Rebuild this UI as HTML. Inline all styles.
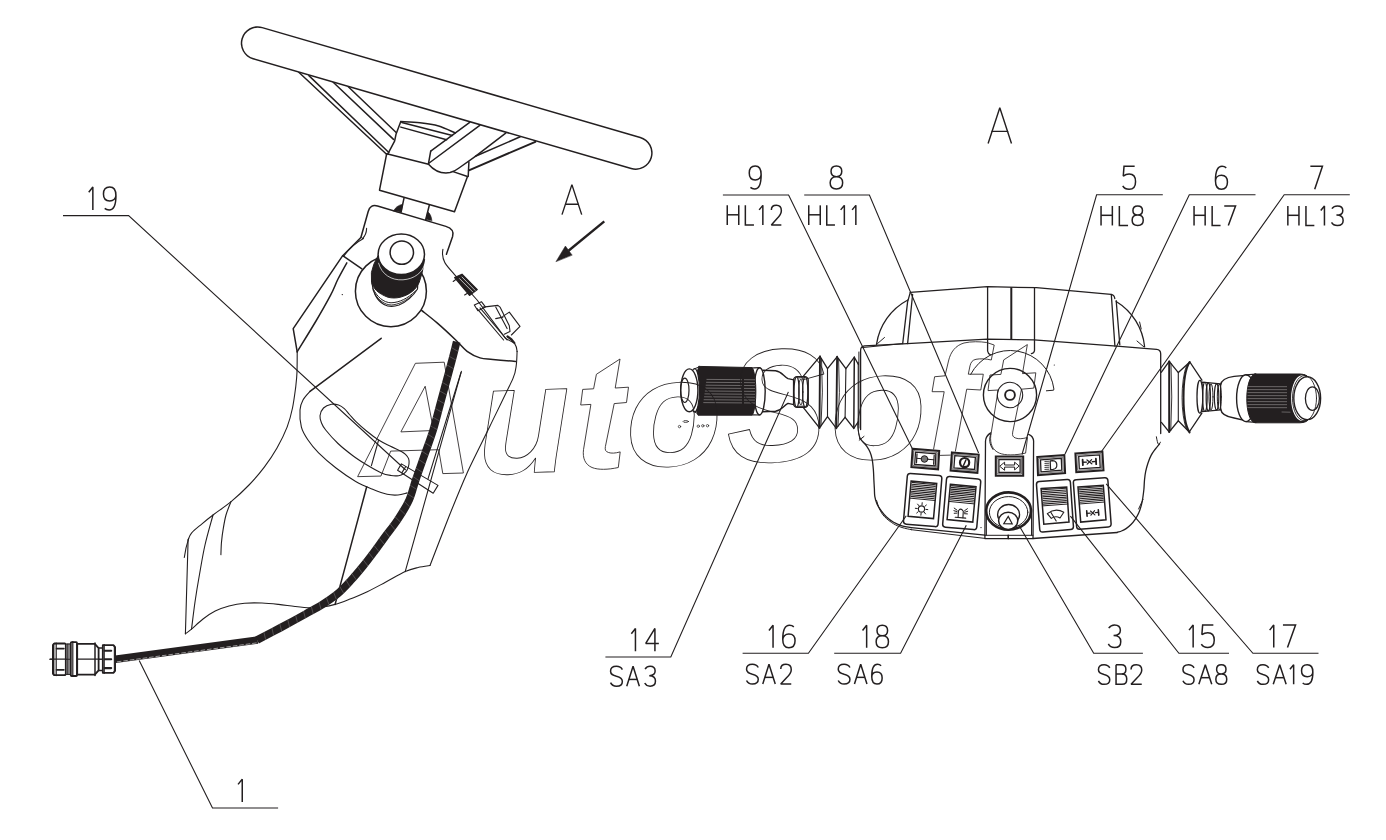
<!DOCTYPE html>
<html><head><meta charset="utf-8"><title>Diagram</title>
<style>
html,body{margin:0;padding:0;background:#fff;}
body{width:1386px;height:840px;overflow:hidden;font-family:"Liberation Sans",sans-serif;}
svg{display:block;}
</style></head><body>
<svg width="1386" height="840" viewBox="0 0 1386 840" stroke-linecap="round" stroke-linejoin="round">
<rect width="1386" height="840" fill="#fff"/>
<line x1="298.8" y1="72.2" x2="386.8" y2="154.5" stroke="#231f20" stroke-width="1.5" />
<line x1="308.9" y1="75.6" x2="388.8" y2="152.5" stroke="#231f20" stroke-width="1.5" />
<line x1="333.2" y1="82.3" x2="393.5" y2="139.4" stroke="#231f20" stroke-width="1.5" />
<line x1="348.3" y1="86.8" x2="395.9" y2="132.3" stroke="#231f20" stroke-width="1.5" />
<line x1="475.4" y1="156.3" x2="520.2" y2="136.8" stroke="#231f20" stroke-width="1.5" />
<path d="M468.9,170.3 L535.3,141.8" fill="none" stroke="#231f20" stroke-width="2.0" />
<path d="M400.8,121.6 C404.0,121.8 413.7,122.1 420.0,122.8 C426.3,123.5 432.7,124.3 438.6,126.0 C444.5,127.7 452.4,131.8 455.2,132.9" fill="none" stroke="#231f20" stroke-width="1.5" />
<line x1="401.8" y1="122.4" x2="452.4" y2="135.4" stroke="#231f20" stroke-width="1.5" />
<line x1="400.8" y1="127.1" x2="446.6" y2="139.7" stroke="#231f20" stroke-width="1.5" />
<path d="M400.8,121.6 L396.1,133.9 L394.6,141.1 L388.1,153.4 L386.7,153.7" fill="none" stroke="#231f20" stroke-width="1.5" />
<path d="M386.7,153.7 L428.5,164.2" fill="none" stroke="#231f20" stroke-width="1.5" />
<path d="M386.7,153.7 L379.5,190.2 L454.5,211.8 L467.5,176.5 L453.8,171.9" fill="none" stroke="#231f20" stroke-width="1.5" />
<path d="M468.9,162.0 L468.2,176.5" fill="none" stroke="#231f20" stroke-width="1.5" />
<line x1="430.7" y1="151.2" x2="469.7" y2="122.4" stroke="#231f20" stroke-width="1.5" />
<line x1="428.5" y1="163.5" x2="479.8" y2="125.3" stroke="#231f20" stroke-width="1.5" />
<line x1="430.7" y1="151.2" x2="428.5" y2="163.5" stroke="#231f20" stroke-width="1.5" />
<path d="M428.5,164.2 C434,170.5 442,174 450,172.6 C453,172 456,170.3 459,168 L475.4,156.3 L505.7,133.2" fill="none" stroke="#231f20" stroke-width="1.5" />
<line x1="257.7" y1="43.2" x2="635.7" y2="153.0" stroke="#231f20" stroke-width="33.9" stroke-linecap="round"/>
<line x1="257.7" y1="43.2" x2="635.7" y2="153.0" stroke="#fff" stroke-width="30.9" stroke-linecap="round"/>
<path d="M404.0,198.1 L401.1,211.8" fill="none" stroke="#231f20" stroke-width="1.5" />
<path d="M429.3,205.3 L425.7,219.8" fill="none" stroke="#231f20" stroke-width="1.5" />
<path d="M393.5,210.8 C395.5,207.5 398.5,205 402.7,204.2 L401.3,212.3 Z" fill="#231f20" stroke="#231f20" stroke-width="0.6" />
<path d="M425.9,219.6 L427.8,211.8 C430,213.5 431.5,216.5 431.9,220.5 Z" fill="#231f20" stroke="#231f20" stroke-width="0.6" />
<path d="M360.9,237.5 L368.2,211.5 Q370.2,204.0 377.5,206.0 L445.9,226.4 Q454.8,229.2 452.6,236.5 L446.4,254.3" fill="none" stroke="#231f20" stroke-width="1.5" />
<path d="M366.6,228.4 C366.5,233 364.5,236.5 362.5,238.5" fill="none" stroke="#231f20" stroke-width="1.1" />
<path d="M360.9,237.5 L342.7,255.7 L293.2,328.6 L297.2,351.8" fill="none" stroke="#231f20" stroke-width="1.5" />
<path d="M363.5,238.5 C355,243 348,250 343.5,256.5" fill="none" stroke="#231f20" stroke-width="1.1" />
<line x1="342.7" y1="255.7" x2="361.9" y2="268.9" stroke="#231f20" stroke-width="1.5" />
<path d="M346.8,262.8 C345.3,265.5 340.7,273.6 338.0,279.0 C335.3,284.4 334.3,288.2 330.6,295.2 C326.9,302.2 321.6,311.6 316.0,321.0 C310.4,330.4 300.3,346.7 297.2,351.8" fill="none" stroke="#231f20" stroke-width="1.5" />
<path d="M297.2,351.8 C297.2,355.2 297.2,366.1 297.0,372.0 C296.8,377.9 296.4,381.1 295.7,387.1 C294.9,393.1 293.9,401.3 292.5,408.0 C291.1,414.7 289.7,420.4 287.1,427.1 C284.5,433.8 280.8,441.3 277.0,448.0 C273.2,454.7 269.0,460.9 264.3,467.1 C259.6,473.3 254.5,479.3 249.0,485.0 C243.5,490.7 237.4,496.4 231.4,501.4 C225.4,506.4 218.0,511.2 213.0,515.0 C208.0,518.8 205.0,521.3 201.4,524.3 C197.8,527.3 193.7,530.5 191.5,533.1 C189.3,535.7 188.7,538.8 188.1,539.9" fill="none" stroke="#231f20" stroke-width="1.1" />
<line x1="381.2" y1="338.3" x2="310.0" y2="391.4" stroke="#231f20" stroke-width="1.5" />
<path d="M310.0,391.4 C308.8,392.8 304.7,396.9 303.0,400.0 C301.3,403.1 300.3,405.5 300.0,410.0 C299.7,414.5 300.1,422.1 301.4,427.1 C302.7,432.1 305.1,435.7 308.0,440.0 C310.9,444.3 313.9,448.2 318.6,452.9 C323.3,457.6 329.8,463.2 336.0,468.0 C342.2,472.8 349.7,477.9 355.7,481.4 C361.7,484.9 366.8,486.9 372.0,489.0 C377.2,491.1 382.8,493.3 387.1,494.3 C391.4,495.3 394.7,495.2 398.0,495.0 C401.3,494.8 405.6,493.2 407.1,492.9" fill="none" stroke="#231f20" stroke-width="1.1" />
<path d="M331.4,404.3 C328.9,404.8 325.4,406.1 323.5,408.0 C321.6,409.9 320.3,413.2 320.0,415.7 C319.7,418.2 320.6,420.6 321.5,423.0 C322.4,425.4 322.9,426.6 325.7,430.0 C328.4,433.4 333.5,439.2 338.0,443.5 C342.5,447.8 348.1,452.1 352.9,455.7 C357.7,459.3 362.2,462.1 367.0,465.0 C371.8,467.9 377.4,471.1 381.4,472.9 C385.4,474.6 388.1,475.0 391.0,475.5 C393.9,476.0 396.4,476.0 398.6,475.7 C400.8,475.4 402.6,474.4 404.0,473.5 C405.4,472.6 406.3,471.6 407.1,470.0 C407.9,468.4 408.8,465.9 409.0,464.0 C409.2,462.1 409.2,460.2 408.6,458.6 C408.0,457.0 406.7,455.5 405.5,454.3 C404.3,453.1 404.0,452.8 401.4,451.4 C398.8,450.0 393.8,447.9 390.0,446.0 C386.2,444.1 382.5,442.5 378.6,440.0 C374.7,437.5 370.3,434.1 366.5,431.0 C362.7,427.9 358.5,424.1 355.7,421.4 C352.9,418.6 351.4,416.6 349.5,414.5 C347.6,412.4 346.1,410.2 344.3,408.6 C342.5,407.0 340.6,405.7 338.5,405.0 C336.4,404.3 333.9,403.8 331.4,404.3 Z" fill="none" stroke="#231f20" stroke-width="1.1" />
<line x1="378.6" y1="440.0" x2="371.4" y2="465.7" stroke="#231f20" stroke-width="1.1" />
<path d="M401.4,463.9 L438.0,485.4 L433.2,493.2 L397.6,470.2 Z" fill="none" stroke="#231f20" stroke-width="1.1" />
<line x1="405.6" y1="466.7" x2="401.8" y2="472.9" stroke="#231f20" stroke-width="1.1" />
<line x1="461.0" y1="372.5" x2="428.0" y2="478.8" stroke="#231f20" stroke-width="1.1" />
<path d="M188.1,539.9 L185.4,633.8" fill="none" stroke="#231f20" stroke-width="1.1" />
<path d="M188.6,538.6 C186.5,545 185.2,551 184.3,557.5" fill="none" stroke="#231f20" stroke-width="1.1" />
<path d="M213.0,515.0 C211.7,520.0 207.3,535.0 205.0,545.0 C202.7,555.0 201.1,565.5 199.4,575.0 C197.7,584.5 196.3,593.0 195.0,602.0 C193.7,611.0 192.1,624.7 191.5,629.2" fill="none" stroke="#231f20" stroke-width="1.1" />
<path d="M231.0,501.5 C230.2,503.8 227.3,510.3 226.0,515.0 C224.7,519.7 223.8,525.2 223.1,529.7 C222.3,534.2 221.9,537.9 221.5,542.0 C221.1,546.1 221.0,552.5 220.9,554.6" fill="none" stroke="#231f20" stroke-width="1.1" />
<path d="M185.4,633.8 C186.4,633.0 188.6,631.7 191.5,629.2 C194.4,626.7 199.1,622.0 203.0,619.0 C206.9,616.0 210.9,613.3 215.2,611.1 C219.5,608.9 224.1,607.3 229.0,606.0 C233.9,604.7 239.1,603.7 244.6,603.2 C250.1,602.7 256.4,602.8 262.0,603.0 C267.6,603.2 273.0,603.8 278.5,604.4 C284.0,605.0 289.7,605.9 295.0,606.5 C300.3,607.1 305.5,607.7 310.2,607.8 C314.9,607.9 318.9,607.6 323.0,607.0 C327.1,606.4 330.6,605.7 335.1,604.4 C339.6,603.1 345.1,600.9 350.0,599.0 C354.9,597.1 358.7,595.9 364.5,593.1 C370.3,590.4 378.2,586.1 385.0,582.5 C391.8,578.9 399.7,574.1 405.2,571.6 C410.7,569.1 413.9,568.5 418.0,567.5 C422.1,566.5 428.0,565.8 430.0,565.5" fill="none" stroke="#231f20" stroke-width="1.1" />
<line x1="366.7" y1="486.8" x2="335.1" y2="604.4" stroke="#231f20" stroke-width="1.5" />
<line x1="461.4" y1="371.4" x2="405.2" y2="571.6" stroke="#231f20" stroke-width="1.1" />
<path d="M517.1,351.4 C517.0,353.0 516.8,361.8 516.3,365.0 C515.8,368.2 516.0,371.5 512.9,378.6 C509.8,385.7 495.3,415.0 490.0,426.0 C484.7,437.0 472.0,462.0 467.1,472.9 C462.2,483.8 452.3,508.2 448.0,519.0 C443.7,529.8 432.1,560.1 430.0,565.5" fill="none" stroke="#231f20" stroke-width="1.1" />
<path d="M421.6,310.4 C424.2,312.5 431.4,318.0 437.1,322.9 C442.8,327.8 450.7,335.2 455.7,340.0 C460.7,344.8 463.1,348.4 467.1,351.4 C471.2,354.4 475.7,356.6 480.0,357.9 C484.3,359.2 486.9,358.8 492.9,359.4 C498.8,360.0 511.9,361.1 515.7,361.4" fill="none" stroke="#231f20" stroke-width="1.5" />
<ellipse cx="390.9" cy="291.2" rx="35.5" ry="35.5" fill="#fff" stroke="#231f20" stroke-width="1.5" />
<path d="M372.0,283 C372.5,292 377,300.5 384,304.5 C389,307.3 394,306.8 399,305 C406,302 412.5,297 417.5,289 L418,280 Z" fill="#fff" stroke="#231f20" stroke-width="1.2" />
<path d="M373.0,288.5 C377,297 383.5,302.5 391,302.8 C399,302.6 408,298.5 415.5,291" fill="none" stroke="#231f20" stroke-width="1.0" />
<path d="M374.5,293.5 C379,300.5 384.5,304.8 391.5,305 C398,304.6 405.5,301 411.5,296" fill="none" stroke="#231f20" stroke-width="0.9" />
<path d="M378.2,255.4 L373.8,264.3 L371.4,272.6 L371.5,282.1 C373,288.5 378,293.5 388.1,297.3 C392,298.2 396,298.2 400,297.3 C405,296 409,294 411.9,291.7 C415.5,289 418,285.5 419.3,282.1 L422.2,272.6 L424.6,259.5 Z" fill="#231f20" stroke="#231f20" stroke-width="1" />
<path d="M378.6,263.2 C381.5,274.5 391.5,280.6 403,279.8 C414.5,279 422.3,272.5 424.6,264.5" fill="none" stroke="#fff" stroke-width="0.7" />
<ellipse cx="401.3" cy="254.3" rx="23.2" ry="20.3" fill="#fff" stroke="#231f20" stroke-width="1.5" />
<path d="M379.8,262 C383,271.5 392,276.6 403,276 C413.5,275.2 421,269.5 423.6,262.5" fill="none" stroke="#231f20" stroke-width="0.9" />
<ellipse cx="401.8" cy="252.6" rx="11.7" ry="11.7" fill="#fff" stroke="#231f20" stroke-width="1.5" />
<circle cx="342.3" cy="294.6" r="0.7" fill="#231f20"/>
<path d="M442.9,249.3 C442,254 442.6,258.5 445,262.9 C447.5,267 451,270.5 454.3,274.3 L477.1,300 L505.7,338.6 L514.3,342.9 C516,345.5 517.1,348 517.1,351.4" fill="none" stroke="#231f20" stroke-width="1.1" />
<path d="M454.6,277.6 L462.0,274.2 L477.3,289.6 L469.5,295.4 Z" fill="#231f20" stroke="#231f20" stroke-width="1.2" />
<line x1="459.5" y1="278.6" x2="472.8" y2="292.0" stroke="#fff" stroke-width="0.7" />
<line x1="462.0" y1="277.0" x2="475.0" y2="290.3" stroke="#fff" stroke-width="0.7" />
<line x1="453.2" y1="281.5" x2="455.8" y2="279.5" stroke="#231f20" stroke-width="1.1" />
<line x1="464.6" y1="295.0" x2="467.5" y2="293.2" stroke="#231f20" stroke-width="1.1" />
<path d="M474.3,305.0 L481.4,301.7 L485.4,306.9 L477.9,310.7 Z" fill="none" stroke="#231f20" stroke-width="1.1" />
<path d="M482.9,307.1 L497.9,305.4 L500.0,307.1 L509.3,325.7 L510.0,331.4 L504.3,334.3" fill="none" stroke="#231f20" stroke-width="1.1" />
<line x1="477.1" y1="308.6" x2="503.6" y2="340.0" stroke="#231f20" stroke-width="1.1" />
<line x1="480.0" y1="307.9" x2="507.1" y2="340.0" stroke="#231f20" stroke-width="1.1" />
<line x1="495.7" y1="307.1" x2="507.1" y2="328.6" stroke="#231f20" stroke-width="1.1" />
<path d="M502.9,316.4 L509.3,312.1 L520.0,326.4 L511.4,335.0" fill="none" stroke="#231f20" stroke-width="1.1" />
<line x1="495.7" y1="318.6" x2="502.9" y2="317.1" stroke="#231f20" stroke-width="1.1" />
<path d="M507.5,336.5 L511.5,339.5 L514.3,342.9" fill="none" stroke="#231f20" stroke-width="2.2" />
<path d="M456.7,341.7 C455.9,344.8 454.7,350.3 452.1,360.0 C449.5,369.7 444.5,388.3 441.3,400.0 C438.1,411.7 436.0,420.8 433.2,430.0 C430.4,439.2 427.4,446.7 424.5,455.0 C421.6,463.3 418.2,472.5 415.7,480.0 C413.1,487.5 412.2,493.3 409.2,500.0 C406.2,506.7 401.6,513.8 397.5,520.0 C393.4,526.2 388.7,531.8 384.8,537.1 C380.9,542.4 377.6,547.2 374.0,552.0 C370.4,556.8 367.3,561.0 363.4,565.7 C359.5,570.5 355.1,575.8 350.8,580.5 C346.5,585.2 342.4,589.8 337.6,593.8 C332.8,597.8 327.3,601.4 322.0,604.8 C316.7,608.2 312.7,610.1 305.7,614.0 C298.7,617.9 288.1,623.7 280.0,628.0 C271.9,632.3 260.9,638.0 257.1,640.0" fill="none" stroke="#231f20" stroke-width="7.7" stroke-linecap="butt"/>
<path d="M451.7,347.8 L457.8,351.2 M449.5,356.5 L455.6,359.9 M447.2,365.1 L453.3,368.6 M444.8,373.8 L450.9,377.3 M442.5,382.5 L448.6,386.0 M440.2,391.2 L446.3,394.7 M437.8,399.9 L443.9,403.4 M435.5,408.6 L441.6,412.1 M433.1,417.3 L439.2,420.8 M430.8,426.0 L436.9,429.5 M428.1,434.3 L433.9,438.2 M425.1,442.8 L431.0,446.7 M422.2,451.3 L428.0,455.2 M419.2,459.8 L425.0,463.7 M416.2,468.3 L422.0,472.2 M413.2,476.7 L419.1,480.7 M410.4,485.4 L416.3,489.2 M407.6,493.9 L413.5,497.7 M404.4,501.5 L409.3,506.5 M399.8,509.3 L404.8,514.2 M395.3,517.0 L400.3,522.0 M390.3,524.0 L394.7,529.5 M384.9,531.3 L389.3,536.8 M379.6,538.5 L384.0,544.0 M374.3,545.8 L378.7,551.3 M369.0,553.0 L373.2,558.5 M363.4,560.1 L367.7,565.7 M357.9,566.9 L361.9,572.7 M352.0,573.8 L356.1,579.6 M346.2,580.3 L349.8,586.4 M339.9,586.7 L343.4,592.8 M333.7,592.4 L336.2,599.0 M326.4,597.6 L328.8,604.2 M319.2,602.5 L321.0,609.3 M311.4,606.9 L313.2,613.7 M303.6,611.3 L305.3,618.1 M295.7,615.6 L297.4,622.4 M287.8,619.9 L289.5,626.7 M279.9,624.2 L281.6,631.0 M272.0,628.4 L273.5,635.2 M264.0,632.5 L265.6,639.4" fill="none" stroke="#8d898a" stroke-width="0.45" />
<line x1="257.6" y1="640.0" x2="115.5" y2="659.3" stroke="#231f20" stroke-width="7.6" stroke-linecap="butt"/>
<line x1="256.6" y1="642.9" x2="116.5" y2="661.9" stroke="#fff" stroke-width="0.55" stroke-dasharray="4.5 2" stroke-linecap="butt"/>
<line x1="50.0" y1="659.2" x2="115.0" y2="659.2" stroke="#231f20" stroke-width="1.1" />
<path d="M54.2,643.5 L65.0,643.5 L65.8,644.5 L65.8,674.1 L65.0,675.1 L54.2,675.1 L52.9,673.6 L52.9,645.0 Z" fill="#fff" stroke="#231f20" stroke-width="1.8" />
<line x1="53.6" y1="644.0" x2="53.6" y2="674.6" stroke="#231f20" stroke-width="1.6" />
<line x1="56.2" y1="643.0" x2="56.2" y2="675.6" stroke="#231f20" stroke-width="1.2" />
<line x1="56.6" y1="648.6" x2="63.8" y2="648.6" stroke="#231f20" stroke-width="1.8" />
<line x1="56.6" y1="669.8" x2="63.8" y2="669.8" stroke="#231f20" stroke-width="1.8" />
<line x1="50.0" y1="659.2" x2="66.0" y2="659.2" stroke="#231f20" stroke-width="1.2" />
<line x1="67.7" y1="644.0" x2="67.7" y2="674.4" stroke="#231f20" stroke-width="1.0" />
<line x1="69.0" y1="644.0" x2="69.0" y2="674.4" stroke="#231f20" stroke-width="1.0" />
<line x1="66.0" y1="644.0" x2="70.0" y2="644.0" stroke="#231f20" stroke-width="1.0" />
<line x1="66.0" y1="674.4" x2="70.0" y2="674.4" stroke="#231f20" stroke-width="1.0" />
<rect x="70.8" y="642.2" width="6.2" height="33.8" rx="0.8" fill="#fff" stroke="#231f20" stroke-width="1.8"/>
<line x1="72.8" y1="641.6" x2="72.8" y2="676.4" stroke="#231f20" stroke-width="1.2" />
<path d="M77.2,643.9 L94.8,643.9 L98.6,648.2 L98.6,670.3 L94.8,674.7 L77.2,674.7 Z" fill="#fff" stroke="#231f20" stroke-width="1.8" />
<line x1="77.2" y1="659.2" x2="98.9" y2="659.2" stroke="#231f20" stroke-width="1.2" />
<line x1="95.0" y1="643.1" x2="95.0" y2="675.4" stroke="#231f20" stroke-width="1.5" />
<line x1="98.9" y1="647.9" x2="102.3" y2="647.9" stroke="#231f20" stroke-width="1.5" />
<line x1="98.9" y1="670.5" x2="102.3" y2="670.5" stroke="#231f20" stroke-width="1.5" />
<line x1="98.9" y1="659.2" x2="102.3" y2="659.2" stroke="#231f20" stroke-width="1.0" />
<path d="M102.8,645.2 L113.4,645.2 L115.1,647.2 L115.1,670.8 L113.4,672.8 L102.8,672.8 Z" fill="#fff" stroke="#231f20" stroke-width="1.8" />
<line x1="104.2" y1="644.6" x2="104.2" y2="673.4" stroke="#231f20" stroke-width="1.2" />
<line x1="114.3" y1="646.0" x2="114.3" y2="672.0" stroke="#231f20" stroke-width="1.0" />
<line x1="104.6" y1="650.8" x2="111.2" y2="650.8" stroke="#231f20" stroke-width="2.1" />
<line x1="104.6" y1="659.2" x2="111.2" y2="659.2" stroke="#231f20" stroke-width="2.1" />
<line x1="104.6" y1="668.1" x2="111.2" y2="668.1" stroke="#231f20" stroke-width="2.1" />
<path d="M907.8,300.0 A60,60 0 0 0 876.5,344.3" fill="none" stroke="#231f20" stroke-width="1.3" />
<path d="M1116.2,301.5 A60,60 0 0 1 1144.6,346.5" fill="none" stroke="#231f20" stroke-width="1.3" />
<line x1="877.5" y1="343.6" x2="884.5" y2="337.5" stroke="#231f20" stroke-width="1.0" />
<line x1="1137.0" y1="341.0" x2="1144.0" y2="347.0" stroke="#231f20" stroke-width="1.0" />
<line x1="1139.6" y1="322.0" x2="1141.2" y2="329.0" stroke="#231f20" stroke-width="1.0" />
<path d="M910.3,292.4 L987.4,286.7 L1036.4,287.7 L1111.0,294.3 Q1114.4,294.8 1114.8,298.5" fill="none" stroke="#231f20" stroke-width="1.3" />
<path d="M910.3,292.4 L907.6,301.9 L902.7,343.6" fill="none" stroke="#231f20" stroke-width="1.3" />
<line x1="912.6" y1="294.5" x2="907.6" y2="343.6" stroke="#231f20" stroke-width="1.3" />
<line x1="1111.3" y1="294.5" x2="1114.9" y2="346.0" stroke="#231f20" stroke-width="1.3" />
<line x1="1116.2" y1="300.7" x2="1119.8" y2="344.8" stroke="#231f20" stroke-width="1.3" />
<path d="M987.6,286.7 L987.6,351.0 Q987.8,353.5 990.7,355.0" fill="none" stroke="#231f20" stroke-width="1.3" />
<line x1="1011.3" y1="287.3" x2="1011.3" y2="339.2" stroke="#231f20" stroke-width="2.0" stroke-linecap="butt"/>
<path d="M1034.5,287.7 L1034.5,350.5 Q1034.3,353.0 1031.4,353.6" fill="none" stroke="#231f20" stroke-width="1.3" />
<path d="M860.6,429.5 L860.6,350.5 Q860.6,346.3 864.5,345.9 L902.7,343.8 L987.4,339.2 L1034.0,339.9 L1119.8,346.3 L1156.6,349.4 Q1160.7,349.8 1160.7,354.0 L1160.7,433.6" fill="none" stroke="#231f20" stroke-width="1.3" />
<line x1="862.3" y1="347.6" x2="902.5" y2="343.6" stroke="#231f20" stroke-width="1.0" />
<line x1="858.9" y1="352.0" x2="858.9" y2="428.0" stroke="#231f20" stroke-width="1.0" />
<path d="M857.8,423.5 C858.2,430 858.8,435 859.8,438.6" fill="none" stroke="#231f20" stroke-width="1.0" />
<path d="M859.2,440.2 L864.0,436.4" fill="none" stroke="#231f20" stroke-width="1.0" />
<path d="M859.8,438.6 C860.4,439.2 862.3,441.2 863.5,442.5 C864.7,443.8 865.7,444.8 866.8,446.4 C867.9,448.0 869.1,449.9 870.0,452.0 C870.9,454.1 871.5,455.9 872.1,458.9 C872.7,461.9 873.1,466.4 873.4,470.0 C873.7,473.6 873.7,477.2 873.9,480.4 C874.1,483.6 874.2,486.3 874.4,489.0 C874.5,491.7 874.4,493.9 874.8,496.4 C875.2,498.9 876.0,501.6 877.0,504.0 C878.0,506.4 879.5,508.5 881.1,510.7 C882.7,512.9 884.4,515.1 886.5,517.0 C888.6,518.9 891.0,520.8 893.6,522.3 C896.2,523.8 899.0,524.9 902.0,525.8 C905.0,526.7 909.8,527.4 911.4,527.7" fill="none" stroke="#231f20" stroke-width="1.3" />
<line x1="911.4" y1="527.7" x2="984.9" y2="535.2" stroke="#231f20" stroke-width="1.3" />
<path d="M876.6,500.5 C877.1,501.9 878.2,506.3 879.5,509.0 C880.8,511.7 882.2,514.3 884.6,516.8 C887.0,519.3 890.7,522.0 893.6,523.8 C896.5,525.6 899.0,526.5 902.0,527.5 C905.0,528.5 909.8,529.3 911.4,529.7" fill="none" stroke="#231f20" stroke-width="1.0" />
<line x1="911.4" y1="529.7" x2="984.9" y2="538.4" stroke="#231f20" stroke-width="1.0" />
<path d="M1156.4,436.8 C1157,440.5 1157.6,443 1158.4,444.4 L1160.6,442.2" fill="none" stroke="#231f20" stroke-width="1.0" />
<path d="M1159.6,443.8 C1158.8,444.8 1156.4,447.6 1155.0,449.5 C1153.6,451.4 1152.3,453.1 1151.1,455.4 C1149.9,457.6 1148.9,460.3 1148.0,463.0 C1147.1,465.7 1146.3,468.6 1145.7,471.4 C1145.1,474.2 1144.8,477.0 1144.5,480.0 C1144.2,483.0 1144.2,486.3 1143.9,489.3 C1143.6,492.3 1143.2,495.3 1142.8,498.0 C1142.4,500.7 1142.0,502.9 1141.3,505.4 C1140.6,507.9 1139.8,510.6 1138.7,513.0 C1137.7,515.4 1136.3,517.7 1135.0,519.6 C1133.7,521.5 1132.5,523.0 1131.0,524.5 C1129.5,526.0 1127.7,527.5 1126.1,528.6 C1124.5,529.7 1123.0,530.4 1121.5,531.0 C1120.0,531.6 1117.8,532.2 1117.1,532.5" fill="none" stroke="#231f20" stroke-width="1.3" />
<line x1="1117.1" y1="532.5" x2="1033.0" y2="538.5" stroke="#231f20" stroke-width="1.3" />
<line x1="1138.6" y1="509.0" x2="1143.0" y2="499.5" stroke="#231f20" stroke-width="1.0" />
<path d="M970.7,374.3 A44.3,44.3 0 0 1 1053.9,389.0 L1053.6,390.2 L1046.4,390.8" fill="none" stroke="#231f20" stroke-width="1.0" />
<circle cx="1054.3" cy="365" r="0.6" fill="#231f20"/>
<ellipse cx="1010.0" cy="395.0" rx="26.6" ry="26.6" fill="none" stroke="#231f20" stroke-width="1.4" />
<ellipse cx="1010.0" cy="395.0" rx="12.7" ry="12.7" fill="none" stroke="#231f20" stroke-width="1.1" />
<ellipse cx="1010.0" cy="395.0" rx="4.9" ry="4.9" fill="none" stroke="#231f20" stroke-width="1.9" />
<path d="M990.7,432.9 C987.5,435 985.6,437.5 985.5,441.0 L984.9,538.6 L1033.0,538.6 L1033.6,441.0 C1033.4,437.5 1031.5,435.5 1028.6,434.3" fill="none" stroke="#231f20" stroke-width="1.3" />
<path d="M990.7,434.3 C988.8,439 989.5,444.5 993.0,449.5" fill="none" stroke="#231f20" stroke-width="1.0" />
<line x1="986.4" y1="509.0" x2="986.4" y2="535.0" stroke="#231f20" stroke-width="1.0" />
<line x1="1031.5" y1="509.0" x2="1031.5" y2="535.0" stroke="#231f20" stroke-width="1.0" />
<line x1="984.9" y1="535.3" x2="1033.0" y2="535.3" stroke="#231f20" stroke-width="1.0" />
<line x1="1008.2" y1="535.3" x2="1008.2" y2="538.6" stroke="#231f20" stroke-width="1.6" />
<circle cx="981.0" cy="527.6" r="0.7" fill="#231f20"/>
<path d="M907.3,476.3 Q907.5,473.3 910.5,473.5 L939.0,475.5 Q942.0,475.7 941.8,478.7 L938.1,523.9 Q937.9,526.9 934.9,526.6 L906.3,524.2 Q903.3,523.9 903.5,520.9 Z" fill="#fff" stroke="#231f20" stroke-width="1.5" />
<path d="M911.1,481.1 L936.7,483.5 L933.5,518.6 L908.1,516.2 Z" fill="none" stroke="#231f20" stroke-width="1.5" stroke-linejoin="miter"/>
<line x1="911.8" y1="482.4" x2="935.8" y2="484.7" stroke="#231f20" stroke-width="1.15" stroke-linecap="butt"/>
<line x1="911.6" y1="484.2" x2="935.7" y2="486.4" stroke="#231f20" stroke-width="1.15" stroke-linecap="butt"/>
<line x1="911.5" y1="485.9" x2="935.5" y2="488.2" stroke="#231f20" stroke-width="1.15" stroke-linecap="butt"/>
<line x1="911.3" y1="487.7" x2="935.3" y2="489.9" stroke="#231f20" stroke-width="1.15" stroke-linecap="butt"/>
<line x1="911.2" y1="489.4" x2="935.2" y2="491.7" stroke="#231f20" stroke-width="1.15" stroke-linecap="butt"/>
<line x1="911.0" y1="491.2" x2="935.0" y2="493.4" stroke="#231f20" stroke-width="1.15" stroke-linecap="butt"/>
<line x1="910.9" y1="492.9" x2="934.9" y2="495.2" stroke="#231f20" stroke-width="1.15" stroke-linecap="butt"/>
<line x1="910.7" y1="494.7" x2="934.7" y2="496.9" stroke="#231f20" stroke-width="1.15" stroke-linecap="butt"/>
<line x1="910.6" y1="496.4" x2="934.5" y2="498.7" stroke="#231f20" stroke-width="1.15" stroke-linecap="butt"/>
<line x1="909.6" y1="498.1" x2="935.1" y2="500.5" stroke="#231f20" stroke-width="1.0" />
<ellipse cx="921.5" cy="509.0" rx="3.1" ry="3.1" fill="none" stroke="#231f20" stroke-width="1.1" />
<line x1="925.8" y1="509.4" x2="927.8" y2="509.6" stroke="#231f20" stroke-width="1.0" />
<line x1="924.3" y1="512.3" x2="925.5" y2="513.9" stroke="#231f20" stroke-width="1.0" />
<line x1="921.1" y1="513.3" x2="920.9" y2="515.2" stroke="#231f20" stroke-width="1.0" />
<line x1="918.2" y1="511.7" x2="916.7" y2="513.0" stroke="#231f20" stroke-width="1.0" />
<line x1="917.3" y1="508.5" x2="915.3" y2="508.3" stroke="#231f20" stroke-width="1.0" />
<line x1="918.8" y1="505.6" x2="917.6" y2="504.1" stroke="#231f20" stroke-width="1.0" />
<line x1="922.0" y1="504.7" x2="922.2" y2="502.7" stroke="#231f20" stroke-width="1.0" />
<line x1="924.9" y1="506.3" x2="926.4" y2="505.0" stroke="#231f20" stroke-width="1.0" />
<path d="M946.5,479.3 Q946.8,476.3 949.8,476.6 L978.0,479.0 Q981.0,479.3 980.7,482.3 L976.8,526.9 Q976.5,529.9 973.5,529.6 L945.4,527.2 Q942.4,526.9 942.7,523.9 Z" fill="#fff" stroke="#231f20" stroke-width="1.5" />
<path d="M950.4,484.3 L976.0,486.7 L972.8,522.1 L947.1,519.5 Z" fill="none" stroke="#231f20" stroke-width="1.5" stroke-linejoin="miter"/>
<line x1="951.1" y1="485.6" x2="975.1" y2="487.9" stroke="#231f20" stroke-width="1.15" stroke-linecap="butt"/>
<line x1="950.9" y1="487.4" x2="975.0" y2="489.6" stroke="#231f20" stroke-width="1.15" stroke-linecap="butt"/>
<line x1="950.7" y1="489.1" x2="974.8" y2="491.4" stroke="#231f20" stroke-width="1.15" stroke-linecap="butt"/>
<line x1="950.6" y1="490.9" x2="974.6" y2="493.2" stroke="#231f20" stroke-width="1.15" stroke-linecap="butt"/>
<line x1="950.4" y1="492.6" x2="974.5" y2="494.9" stroke="#231f20" stroke-width="1.15" stroke-linecap="butt"/>
<line x1="950.2" y1="494.4" x2="974.3" y2="496.7" stroke="#231f20" stroke-width="1.15" stroke-linecap="butt"/>
<line x1="950.1" y1="496.2" x2="974.2" y2="498.5" stroke="#231f20" stroke-width="1.15" stroke-linecap="butt"/>
<line x1="949.9" y1="497.9" x2="974.0" y2="500.3" stroke="#231f20" stroke-width="1.15" stroke-linecap="butt"/>
<line x1="949.7" y1="499.7" x2="973.8" y2="502.0" stroke="#231f20" stroke-width="1.15" stroke-linecap="butt"/>
<line x1="948.8" y1="501.4" x2="974.4" y2="503.9" stroke="#231f20" stroke-width="1.0" />
<path d="M958.1,517.3 L958.5,510.8 Q960.9,507.3 963.3,511.2 L962.9,517.7" fill="none" stroke="#231f20" stroke-width="1.1" />
<line x1="955.2" y1="517.3" x2="965.7" y2="518.1" stroke="#231f20" stroke-width="1.1" />
<line x1="954.2" y1="508.1" x2="957.1" y2="510.2" stroke="#231f20" stroke-width="1.0" />
<line x1="953.9" y1="510.7" x2="957.1" y2="511.6" stroke="#231f20" stroke-width="1.0" />
<line x1="954.2" y1="513.3" x2="957.1" y2="513.1" stroke="#231f20" stroke-width="1.0" />
<line x1="967.4" y1="508.7" x2="964.5" y2="510.8" stroke="#231f20" stroke-width="1.0" />
<line x1="967.7" y1="511.3" x2="964.5" y2="512.3" stroke="#231f20" stroke-width="1.0" />
<line x1="967.4" y1="513.9" x2="964.5" y2="513.7" stroke="#231f20" stroke-width="1.0" />
<path d="M1036.5,484.7 Q1036.3,481.7 1039.3,481.5 L1067.2,479.5 Q1070.2,479.3 1070.4,482.3 L1073.4,526.3 Q1073.6,529.3 1070.6,529.6 L1042.9,532.0 Q1039.9,532.3 1039.7,529.3 Z" fill="#fff" stroke="#231f20" stroke-width="1.5" />
<path d="M1041.1,488.6 L1066.7,487.0 L1069.0,522.1 L1043.8,524.3 Z" fill="none" stroke="#231f20" stroke-width="1.5" stroke-linejoin="miter"/>
<line x1="1042.0" y1="489.8" x2="1066.0" y2="488.3" stroke="#231f20" stroke-width="1.15" stroke-linecap="butt"/>
<line x1="1042.1" y1="491.6" x2="1066.1" y2="490.0" stroke="#231f20" stroke-width="1.15" stroke-linecap="butt"/>
<line x1="1042.2" y1="493.4" x2="1066.2" y2="491.8" stroke="#231f20" stroke-width="1.15" stroke-linecap="butt"/>
<line x1="1042.4" y1="495.2" x2="1066.4" y2="493.5" stroke="#231f20" stroke-width="1.15" stroke-linecap="butt"/>
<line x1="1042.5" y1="496.9" x2="1066.5" y2="495.3" stroke="#231f20" stroke-width="1.15" stroke-linecap="butt"/>
<line x1="1042.6" y1="498.7" x2="1066.6" y2="497.1" stroke="#231f20" stroke-width="1.15" stroke-linecap="butt"/>
<line x1="1042.8" y1="500.5" x2="1066.7" y2="498.8" stroke="#231f20" stroke-width="1.15" stroke-linecap="butt"/>
<line x1="1042.9" y1="502.3" x2="1066.8" y2="500.6" stroke="#231f20" stroke-width="1.15" stroke-linecap="butt"/>
<line x1="1043.0" y1="504.1" x2="1066.9" y2="502.3" stroke="#231f20" stroke-width="1.15" stroke-linecap="butt"/>
<line x1="1042.4" y1="505.9" x2="1067.8" y2="504.0" stroke="#231f20" stroke-width="1.0" />
<path d="M1047.3,513.6 Q1055.3,507.4 1063.8,512.2 L1060.0,518.0 Q1055.5,515.4 1051.3,518.4 Z" fill="none" stroke="#231f20" stroke-width="1.1" />
<line x1="1050.8" y1="512.2" x2="1056.2" y2="521.0" stroke="#231f20" stroke-width="1.1" />
<path d="M1073.4,482.9 Q1073.2,479.9 1076.2,479.7 L1104.7,477.7 Q1107.7,477.5 1107.9,480.5 L1111.1,523.7 Q1111.3,526.7 1108.3,526.9 L1079.8,529.3 Q1076.8,529.5 1076.6,526.5 Z" fill="#fff" stroke="#231f20" stroke-width="1.5" />
<path d="M1078.0,487.0 L1103.3,485.2 L1106.0,519.8 L1080.7,522.1 Z" fill="none" stroke="#231f20" stroke-width="1.5" stroke-linejoin="miter"/>
<line x1="1078.9" y1="488.2" x2="1102.6" y2="486.5" stroke="#231f20" stroke-width="1.15" stroke-linecap="butt"/>
<line x1="1079.0" y1="489.9" x2="1102.8" y2="488.2" stroke="#231f20" stroke-width="1.15" stroke-linecap="butt"/>
<line x1="1079.1" y1="491.7" x2="1102.9" y2="489.9" stroke="#231f20" stroke-width="1.15" stroke-linecap="butt"/>
<line x1="1079.3" y1="493.4" x2="1103.0" y2="491.7" stroke="#231f20" stroke-width="1.15" stroke-linecap="butt"/>
<line x1="1079.4" y1="495.2" x2="1103.2" y2="493.4" stroke="#231f20" stroke-width="1.15" stroke-linecap="butt"/>
<line x1="1079.5" y1="496.9" x2="1103.3" y2="495.1" stroke="#231f20" stroke-width="1.15" stroke-linecap="butt"/>
<line x1="1079.7" y1="498.7" x2="1103.4" y2="496.9" stroke="#231f20" stroke-width="1.15" stroke-linecap="butt"/>
<line x1="1079.8" y1="500.5" x2="1103.6" y2="498.6" stroke="#231f20" stroke-width="1.15" stroke-linecap="butt"/>
<line x1="1079.9" y1="502.2" x2="1103.7" y2="500.3" stroke="#231f20" stroke-width="1.15" stroke-linecap="butt"/>
<line x1="1079.3" y1="504.0" x2="1104.6" y2="502.0" stroke="#231f20" stroke-width="1.0" />
<line x1="1086.7" y1="510.7" x2="1087.1" y2="516.2" stroke="#231f20" stroke-width="1.6" />
<line x1="1098.3" y1="509.7" x2="1098.8" y2="515.1" stroke="#231f20" stroke-width="1.6" />
<line x1="1086.9" y1="513.4" x2="1090.2" y2="513.2" stroke="#231f20" stroke-width="1.2800000000000002" />
<line x1="1095.3" y1="512.7" x2="1098.5" y2="512.4" stroke="#231f20" stroke-width="1.2800000000000002" />
<line x1="1090.5" y1="511.0" x2="1094.9" y2="514.8" stroke="#231f20" stroke-width="1.1199999999999999" />
<line x1="1094.6" y1="510.7" x2="1090.9" y2="515.2" stroke="#231f20" stroke-width="1.1199999999999999" />
<ellipse cx="1008.6" cy="511.0" rx="22.4" ry="18.6" fill="none" stroke="#231f20" stroke-width="2.6" />
<ellipse cx="1008.6" cy="512.2" rx="19.2" ry="15.6" fill="none" stroke="#231f20" stroke-width="1.0" />
<ellipse cx="1008.6" cy="514.5" rx="11.0" ry="10.0" fill="#fff" stroke="#231f20" stroke-width="1.3" />
<ellipse cx="1008.2" cy="520.8" rx="9.6" ry="8.6" fill="#fff" stroke="#231f20" stroke-width="1.5" />
<path d="M1008.2,516.4 L1012.2,523.8 L1003.8,523.6 Z" fill="none" stroke="#231f20" stroke-width="1.2" stroke-linejoin="miter"/>
<path d="M803.6,375.9 L820.0,356.4 L827.5,368.7 L837.1,356.8 L845.9,368.7 L854.3,357.2 L858.4,364.5" fill="none" stroke="#231f20" stroke-width="1.3" stroke-linejoin="miter"/>
<path d="M803.6,407.8 L819.5,427.9 L827.5,416.6 L836.3,428.3 L845.1,417.4 L853.8,428.3 L858.4,421.5" fill="none" stroke="#231f20" stroke-width="1.3" stroke-linejoin="miter"/>
<line x1="820.0" y1="356.4" x2="819.5" y2="427.9" stroke="#231f20" stroke-width="1.9" />
<line x1="837.1" y1="356.8" x2="836.3" y2="428.3" stroke="#231f20" stroke-width="1.9" />
<line x1="854.3" y1="357.2" x2="853.8" y2="428.3" stroke="#231f20" stroke-width="1.5" />
<line x1="827.5" y1="368.7" x2="827.5" y2="416.6" stroke="#231f20" stroke-width="1.1" />
<line x1="845.9" y1="368.7" x2="845.1" y2="417.4" stroke="#231f20" stroke-width="1.1" />
<line x1="858.2" y1="362.3" x2="858.2" y2="424.6" stroke="#231f20" stroke-width="1.0" />
<path d="M821.5,358.5 Q823.5,392 821.0,426" fill="none" stroke="#231f20" stroke-width="0.9" />
<path d="M838.6,359 Q840.5,392 838.0,426.5" fill="none" stroke="#231f20" stroke-width="0.9" />
<rect x="793.6" y="376.6" width="14.6" height="30.6" rx="3.5" fill="#fff" stroke="#231f20" stroke-width="1.4"/>
<ellipse cx="796.6" cy="392.0" rx="2.6" ry="15.0" fill="none" stroke="#231f20" stroke-width="1.1" />
<ellipse cx="805.2" cy="392.0" rx="2.6" ry="15.0" fill="none" stroke="#231f20" stroke-width="1.1" />
<line x1="798.5" y1="377.8" x2="804.0" y2="377.8" stroke="#231f20" stroke-width="1.0" />
<line x1="798.5" y1="406.2" x2="804.0" y2="406.2" stroke="#231f20" stroke-width="1.0" />
<ellipse cx="800.8" cy="392.0" rx="2.2" ry="13.0" fill="none" stroke="#231f20" stroke-width="0.9" />
<path d="M762.9,370.3 L775.5,370.8 C782,371.5 783.5,376.5 788.0,378.6 L793.8,379.9" fill="none" stroke="#231f20" stroke-width="1.4" />
<path d="M762.1,411.8 L775.5,411.2 C782,410.5 783.5,405.5 788.0,403.4 L793.8,404.6" fill="none" stroke="#231f20" stroke-width="1.4" />
<ellipse cx="759.6" cy="391.3" rx="5.6" ry="23.6" fill="#fff" stroke="#231f20" stroke-width="1.4" />
<path d="M753.5,367.8 L760.0,367.6 M753.5,414.9 L760.0,415.0" fill="none" stroke="#231f20" stroke-width="1.2" />
<path d="M699.0,366.4 L752.5,367.6 C757.0,378 757.0,405 752.5,415.2 L698.0,415.2 C693.5,405 694.0,377 699.0,366.4 Z" fill="#231f20" stroke="#231f20" stroke-width="1.0" />
<line x1="706.5" y1="379.4" x2="742.0" y2="379.7" stroke="#a9a6a6" stroke-width="0.55" stroke-linecap="butt"/>
<line x1="744.0" y1="379.7" x2="755.0" y2="379.8" stroke="#a9a6a6" stroke-width="0.55" stroke-linecap="butt"/>
<line x1="706.1" y1="382.3" x2="742.0" y2="382.6" stroke="#a9a6a6" stroke-width="0.55" stroke-linecap="butt"/>
<line x1="744.0" y1="382.6" x2="755.0" y2="382.7" stroke="#a9a6a6" stroke-width="0.55" stroke-linecap="butt"/>
<line x1="705.7" y1="385.2" x2="742.0" y2="385.5" stroke="#a9a6a6" stroke-width="0.55" stroke-linecap="butt"/>
<line x1="744.0" y1="385.5" x2="755.0" y2="385.6" stroke="#a9a6a6" stroke-width="0.55" stroke-linecap="butt"/>
<line x1="705.3" y1="388.1" x2="742.0" y2="388.4" stroke="#a9a6a6" stroke-width="0.55" stroke-linecap="butt"/>
<line x1="744.0" y1="388.4" x2="755.0" y2="388.5" stroke="#a9a6a6" stroke-width="0.55" stroke-linecap="butt"/>
<line x1="704.9" y1="391.0" x2="742.0" y2="391.3" stroke="#a9a6a6" stroke-width="0.55" stroke-linecap="butt"/>
<line x1="744.0" y1="391.3" x2="755.0" y2="391.4" stroke="#a9a6a6" stroke-width="0.55" stroke-linecap="butt"/>
<line x1="704.5" y1="393.9" x2="742.0" y2="394.2" stroke="#a9a6a6" stroke-width="0.55" stroke-linecap="butt"/>
<line x1="744.0" y1="394.2" x2="755.0" y2="394.3" stroke="#a9a6a6" stroke-width="0.55" stroke-linecap="butt"/>
<line x1="704.1" y1="396.8" x2="742.0" y2="397.1" stroke="#a9a6a6" stroke-width="0.55" stroke-linecap="butt"/>
<line x1="744.0" y1="397.1" x2="755.0" y2="397.2" stroke="#a9a6a6" stroke-width="0.55" stroke-linecap="butt"/>
<line x1="703.7" y1="399.7" x2="742.0" y2="400.0" stroke="#a9a6a6" stroke-width="0.55" stroke-linecap="butt"/>
<line x1="744.0" y1="400.0" x2="755.0" y2="400.1" stroke="#a9a6a6" stroke-width="0.55" stroke-linecap="butt"/>
<line x1="703.3" y1="402.6" x2="742.0" y2="402.9" stroke="#a9a6a6" stroke-width="0.55" stroke-linecap="butt"/>
<line x1="744.0" y1="402.9" x2="755.0" y2="403.0" stroke="#a9a6a6" stroke-width="0.55" stroke-linecap="butt"/>
<ellipse cx="694.6" cy="390.3" rx="4.9" ry="21.6" fill="#fff" stroke="#231f20" stroke-width="1.3" />
<ellipse cx="689.3" cy="390.3" rx="8.6" ry="21.4" fill="#fff" stroke="#231f20" stroke-width="1.4" />
<ellipse cx="684.8" cy="390.3" rx="4.2" ry="12.2" fill="none" stroke="#231f20" stroke-width="1.2" />
<path d="M694.5,368.8 L698.5,367.2 M694.5,411.8 L698.5,414.2" fill="none" stroke="#231f20" stroke-width="1.0" />
<ellipse cx="679.5" cy="426.6" rx="1.2" ry="1.2" fill="none" stroke="#231f20" stroke-width="0.7" />
<ellipse cx="698.3" cy="426.2" rx="1.2" ry="1.2" fill="none" stroke="#231f20" stroke-width="0.7" />
<ellipse cx="702.8" cy="425.8" rx="1.2" ry="1.2" fill="none" stroke="#231f20" stroke-width="0.7" />
<ellipse cx="707.5" cy="425.7" rx="1.2" ry="1.2" fill="none" stroke="#231f20" stroke-width="0.7" />
<ellipse cx="685.8" cy="421.5" rx="2.7" ry="0.9" fill="none" stroke="#231f20" stroke-width="0.8" />
<path d="M1161.4,372.2 L1169.2,361.4 L1178.3,372.6 L1189.8,362.0 L1201.9,380.2" fill="none" stroke="#231f20" stroke-width="1.3" stroke-linejoin="miter"/>
<path d="M1161.4,422.4 L1169.2,432.0 L1178.3,420.8 L1189.2,432.0 L1201.9,413.2" fill="none" stroke="#231f20" stroke-width="1.3" stroke-linejoin="miter"/>
<line x1="1169.2" y1="361.4" x2="1169.2" y2="432.0" stroke="#231f20" stroke-width="2.0" />
<line x1="1178.3" y1="372.6" x2="1178.3" y2="420.8" stroke="#231f20" stroke-width="1.1" />
<path d="M1189.6,362.0 C1181.5,375 1181.5,420 1189.6,432.4" fill="none" stroke="#231f20" stroke-width="2.0" />
<path d="M1171.0,363.5 Q1172.6,397 1170.8,430.5" fill="none" stroke="#231f20" stroke-width="0.9" />
<path d="M1186.6,365.5 C1180.5,380 1180.5,415 1186.6,429.5" fill="none" stroke="#231f20" stroke-width="0.9" />
<path d="M1201.9,382.2 L1220.6,383.9 L1220.6,409.9 L1201.9,411.6 Z" fill="#fff" stroke="#231f20" stroke-width="1.3" />
<ellipse cx="1199.9" cy="396.7" rx="2.9" ry="16.4" fill="#fff" stroke="#231f20" stroke-width="1.3" />
<ellipse cx="1204.9" cy="396.9" rx="2.3" ry="14.6" fill="none" stroke="#231f20" stroke-width="1.1" />
<ellipse cx="1208.3" cy="396.9" rx="2.2" ry="14.0" fill="none" stroke="#231f20" stroke-width="1.1" />
<ellipse cx="1211.0" cy="396.9" rx="2.0" ry="13.0" fill="none" stroke="#231f20" stroke-width="1.0" />
<ellipse cx="1216.6" cy="396.9" rx="2.2" ry="13.0" fill="none" stroke="#231f20" stroke-width="1.1" />
<ellipse cx="1219.3" cy="396.9" rx="2.0" ry="12.8" fill="none" stroke="#231f20" stroke-width="1.0" />
<path d="M1220.6,385.0 C1221.3,380.0 1226.5,377.4 1234.1,376.4 L1245.4,375.4" fill="none" stroke="#231f20" stroke-width="1.4" />
<path d="M1220.6,408.8 C1221.3,414.0 1226.5,416.8 1234.1,418.0 L1245.4,420.6" fill="none" stroke="#231f20" stroke-width="1.4" />
<ellipse cx="1246.0" cy="398.2" rx="9.4" ry="23.4" fill="#fff" stroke="#231f20" stroke-width="1.4" />
<path d="M1246.0,374.8 L1256.0,374.2 M1246.0,421.6 L1256.0,422.4" fill="none" stroke="#231f20" stroke-width="1.2" />
<path d="M1255.0,374.0 L1300.0,374.0 C1304.5,374.2 1307.0,375.5 1308.5,377.5 L1308.5,419.5 C1307.0,421.5 1304.5,422.6 1300.0,422.8 L1255.0,422.8 C1244.0,421 1244.0,376 1255.0,374.0 Z" fill="#231f20" stroke="#231f20" stroke-width="1.0" />
<line x1="1247.5" y1="386.6" x2="1287.0" y2="386.7" stroke="#a9a6a6" stroke-width="0.55" stroke-linecap="butt"/>
<line x1="1247.5" y1="389.6" x2="1287.0" y2="389.7" stroke="#a9a6a6" stroke-width="0.55" stroke-linecap="butt"/>
<line x1="1247.5" y1="392.6" x2="1287.0" y2="392.7" stroke="#a9a6a6" stroke-width="0.55" stroke-linecap="butt"/>
<line x1="1247.5" y1="395.6" x2="1287.0" y2="395.7" stroke="#a9a6a6" stroke-width="0.55" stroke-linecap="butt"/>
<line x1="1247.5" y1="398.6" x2="1287.0" y2="398.7" stroke="#a9a6a6" stroke-width="0.55" stroke-linecap="butt"/>
<line x1="1247.5" y1="401.6" x2="1287.0" y2="401.7" stroke="#a9a6a6" stroke-width="0.55" stroke-linecap="butt"/>
<line x1="1247.5" y1="404.6" x2="1287.0" y2="404.7" stroke="#a9a6a6" stroke-width="0.55" stroke-linecap="butt"/>
<line x1="1247.5" y1="407.6" x2="1287.0" y2="407.7" stroke="#a9a6a6" stroke-width="0.55" stroke-linecap="butt"/>
<line x1="1282.0" y1="412.0" x2="1290.0" y2="412.2" stroke="#a9a6a6" stroke-width="0.5" />
<ellipse cx="1302.0" cy="398.2" rx="11.6" ry="23.6" fill="#fff" stroke="#231f20" stroke-width="1.4" />
<ellipse cx="1307.2" cy="398.2" rx="13.4" ry="21.4" fill="#fff" stroke="#231f20" stroke-width="1.4" />
<ellipse cx="1304.5" cy="398.2" rx="12.0" ry="22.6" fill="none" stroke="#231f20" stroke-width="0.9" />
<ellipse cx="1312.4" cy="398.6" rx="7.0" ry="11.8" fill="none" stroke="#231f20" stroke-width="1.3" />
<text transform="translate(478.71 474.33) rotate(-1.9) scale(0.9794 0.9996)" font-family="Liberation Sans, sans-serif" font-weight="bold" font-style="italic" font-size="156.4" fill="none" stroke="#231f20" stroke-width="0.85" vector-effect="non-scaling-stroke" stroke-linejoin="round">u</text>
<text transform="translate(626.85 466.91) rotate(-1.9) scale(1.0168 0.9862)" font-family="Liberation Sans, sans-serif" font-weight="bold" font-style="italic" font-size="156.4" fill="none" stroke="#231f20" stroke-width="0.85" vector-effect="non-scaling-stroke" stroke-linejoin="round">o</text>
<text transform="translate(727.60 462.82) rotate(-1.9) scale(0.9666 1.0263)" font-family="Liberation Sans, sans-serif" font-weight="bold" font-style="italic" font-size="156.4" fill="none" stroke="#231f20" stroke-width="0.85" vector-effect="non-scaling-stroke" stroke-linejoin="round">S</text>
<text transform="translate(831.18 460.12) rotate(-1.9) scale(1.0107 0.9804)" font-family="Liberation Sans, sans-serif" font-weight="bold" font-style="italic" font-size="156.4" fill="none" stroke="#231f20" stroke-width="0.85" vector-effect="non-scaling-stroke" stroke-linejoin="round">o</text>
<path d="M619.7,359.2 L596.4,374.3 L593.6,388.8 L582.7,389.4 L580.7,405.0 L590.9,404.4 L583.5,449.7 C582.5,458 585,464.5 592,467.5 C598,470 608,469.8 618.3,467.5 L620.2,451.9 C615,453.3 611.5,453.5 608.5,452.5 C605.5,451.5 604.8,450 605.4,446.5 L614.2,403.6 L626.5,402.5 L628.5,387.2 L615.6,388.0 Z" fill="none" stroke="#231f20" stroke-width="0.85" stroke-linejoin="round"/>
<path d="M619.7,359.2 L596.4,374.3 L593.6,388.8 L582.7,389.4 L580.7,405.0 L590.9,404.4 L583.5,449.7 C582.5,458 585,464.5 592,467.5 C598,470 608,469.8 618.3,467.5 L620.2,451.9 C615,453.3 611.5,453.5 608.5,452.5 C605.5,451.5 604.8,450 605.4,446.5 L614.2,403.6 L626.5,402.5 L628.5,387.2 L615.6,388.0 Z" transform="translate(407.3 -14.4)" fill="none" stroke="#231f20" stroke-width="0.85" stroke-linejoin="round"/>
<path d="M935,376.7 L945,375.8 L948.5,361 C950.5,352 955.5,345.5 964,343 C971,341.3 980,341.5 986.7,342.5 L994.2,345 L991.3,360 C986,358.7 980,358.5 976,359.3 C972.5,360 971,362 970,365.8 L968.3,374.2 L983.3,374.2 L980.8,390 L966.7,389.2 L954.7,455.0 L932.4,455.6 L944.2,391.7 L932.5,391.7 Z" fill="none" stroke="#231f20" stroke-width="0.85" stroke-linejoin="round"/>
<path d="M357.8,476.3 L415.4,363.3 L444.2,362.2 L463.4,473.0 L442.8,473.6 L438.7,449.7 L390.7,451.1 L381.1,475.7 Z M425.0,386.6 L400.9,431.9 L433.2,430.5 Z" fill="none" stroke="#231f20" stroke-width="0.85" stroke-linejoin="round"/>
<path d="M911.7,447.7 L940.2,450.1 L939.0,470.4 L910.4,468.0 Z" fill="#fff" stroke="#fff" stroke-width="0.1" />
<path d="M912.6,448.8 L939.2,451.0 L938.1,469.3 L911.4,467.1 Z" fill="none" stroke="#231f20" stroke-width="2.0" stroke-linejoin="miter"/>
<path d="M914.2,450.6 L937.4,452.6 L936.5,467.5 L913.2,465.5 Z" fill="none" stroke="#231f20" stroke-width="0.6" stroke-linejoin="miter"/>
<path d="M915.5,452.1 L935.9,453.8 L935.2,466.0 L914.7,464.3 Z" fill="none" stroke="#231f20" stroke-width="1.3" stroke-linejoin="miter"/>
<line x1="916.8" y1="458.3" x2="933.9" y2="459.8" stroke="#231f20" stroke-width="1.0" />
<line x1="917.0" y1="453.9" x2="916.5" y2="462.8" stroke="#231f20" stroke-width="1.2" />
<line x1="934.2" y1="455.3" x2="933.6" y2="464.2" stroke="#231f20" stroke-width="1.2" />
<ellipse cx="924.5" cy="459.0" rx="3.3" ry="3.3" fill="#777" stroke="#231f20" stroke-width="1.0" />
<path d="M951.0,451.3 L979.8,453.7 L978.3,473.9 L949.5,471.5 Z" fill="#fff" stroke="#fff" stroke-width="0.1" />
<path d="M951.9,452.4 L978.7,454.6 L977.4,472.8 L950.6,470.6 Z" fill="none" stroke="#231f20" stroke-width="2.0" stroke-linejoin="miter"/>
<path d="M953.5,454.2 L976.9,456.1 L975.8,471.0 L952.4,469.1 Z" fill="none" stroke="#231f20" stroke-width="0.6" stroke-linejoin="miter"/>
<path d="M954.8,455.7 L975.4,457.4 L974.5,469.5 L953.9,467.8 Z" fill="none" stroke="#231f20" stroke-width="1.3" stroke-linejoin="miter"/>
<ellipse cx="964.6" cy="462.6" rx="4.6" ry="4.6" fill="#fff" stroke="#231f20" stroke-width="2.2" />
<line x1="963.6" y1="465.2" x2="965.9" y2="460.0" stroke="#231f20" stroke-width="1.5" />
<path d="M994.8,455.5 L1024.2,455.5 L1024.2,476.7 L994.8,476.7 Z" fill="#fff" stroke="#fff" stroke-width="0.1" />
<path d="M995.8,456.5 L1023.2,456.5 L1023.2,475.7 L995.8,475.7 Z" fill="none" stroke="#231f20" stroke-width="2.0" stroke-linejoin="miter"/>
<path d="M997.5,458.3 L1021.5,458.3 L1021.5,473.9 L997.5,473.9 Z" fill="none" stroke="#231f20" stroke-width="0.6" stroke-linejoin="miter"/>
<path d="M998.9,459.7 L1020.1,459.7 L1020.1,472.5 L998.9,472.5 Z" fill="none" stroke="#231f20" stroke-width="1.3" stroke-linejoin="miter"/>
<path d="M1000.0,466.0 L1004.6,462.2 L1004.6,465.0 L1014.6,465.0 L1014.6,462.2 L1019.2,466.0 L1014.6,469.9 L1014.6,467.1 L1004.6,467.1 L1004.6,469.9 Z" fill="none" stroke="#231f20" stroke-width="1.0" stroke-linejoin="miter"/>
<path d="M1036.3,456.1 L1065.2,454.0 L1066.1,473.9 L1037.1,476.3 Z" fill="#fff" stroke="#fff" stroke-width="0.1" />
<path d="M1037.3,457.0 L1064.3,455.0 L1065.1,473.0 L1038.0,475.2 Z" fill="none" stroke="#231f20" stroke-width="2.0" stroke-linejoin="miter"/>
<path d="M1039.1,458.6 L1062.6,456.8 L1063.3,471.5 L1039.7,473.4 Z" fill="none" stroke="#231f20" stroke-width="0.6" stroke-linejoin="miter"/>
<path d="M1040.5,459.8 L1061.3,458.3 L1061.8,470.2 L1041.0,471.9 Z" fill="none" stroke="#231f20" stroke-width="1.3" stroke-linejoin="miter"/>
<path d="M1050.2,460.9 L1052.7,460.7 A4.6,4.4 0 0 1 1053.1,469.4 L1050.6,469.6 Z" fill="none" stroke="#231f20" stroke-width="1.2" />
<line x1="1044.9" y1="461.4" x2="1049.0" y2="461.2" stroke="#231f20" stroke-width="0.9" />
<line x1="1044.9" y1="463.4" x2="1049.0" y2="463.2" stroke="#231f20" stroke-width="0.9" />
<line x1="1044.9" y1="465.4" x2="1049.0" y2="465.2" stroke="#231f20" stroke-width="0.9" />
<line x1="1044.9" y1="467.4" x2="1049.0" y2="467.2" stroke="#231f20" stroke-width="0.9" />
<line x1="1044.9" y1="469.4" x2="1049.0" y2="469.2" stroke="#231f20" stroke-width="0.9" />
<path d="M1074.4,452.5 L1103.3,450.5 L1104.5,471.2 L1075.4,473.3 Z" fill="#fff" stroke="#fff" stroke-width="0.1" />
<path d="M1075.4,453.5 L1102.4,451.6 L1103.5,470.3 L1076.3,472.2 Z" fill="none" stroke="#231f20" stroke-width="2.0" stroke-linejoin="miter"/>
<path d="M1077.2,455.1 L1100.8,453.4 L1101.6,468.7 L1078.0,470.4 Z" fill="none" stroke="#231f20" stroke-width="0.6" stroke-linejoin="miter"/>
<path d="M1078.7,456.4 L1099.5,454.9 L1100.2,467.4 L1079.3,468.8 Z" fill="none" stroke="#231f20" stroke-width="1.3" stroke-linejoin="miter"/>
<line x1="1082.6" y1="459.6" x2="1082.9" y2="465.1" stroke="#231f20" stroke-width="1.8" />
<line x1="1095.9" y1="458.7" x2="1096.2" y2="464.2" stroke="#231f20" stroke-width="1.8" />
<line x1="1082.7" y1="462.3" x2="1086.5" y2="462.1" stroke="#231f20" stroke-width="1.4400000000000002" />
<line x1="1092.3" y1="461.7" x2="1096.1" y2="461.4" stroke="#231f20" stroke-width="1.4400000000000002" />
<line x1="1087.0" y1="459.9" x2="1091.8" y2="463.8" stroke="#231f20" stroke-width="1.26" />
<line x1="1091.6" y1="459.6" x2="1087.2" y2="464.1" stroke="#231f20" stroke-width="1.26" />
<path d="M0,0.23 L0.1783,0 L0.1783,1" transform="translate(88.75 186.95) scale(23.00)" fill="none" stroke="#231f20" stroke-width="1.5" vector-effect="non-scaling-stroke" stroke-linejoin="miter" stroke-miterlimit="2" stroke-linecap="butt"/>
<path d="M0.05435,0.93 C0.1087,0.98 0.17392,1 0.244575,1 C0.46197499999999997,1 0.5435,0.8 0.5435,0.38 C0.5435,0.12 0.46197499999999997,0 0.27175,0 C0.081525,0 0,0.12 0,0.31 C0,0.51 0.081525,0.61 0.27175,0.61 C0.4348,0.61 0.5435,0.5 0.5435,0.34" transform="translate(103.45 186.95) scale(23.00)" fill="none" stroke="#231f20" stroke-width="1.5" vector-effect="non-scaling-stroke" stroke-linejoin="miter" stroke-miterlimit="2" stroke-linecap="butt"/>
<path d="M0,0.23 L0.1842,0 L0.1842,1" transform="translate(238.05 779.15) scale(22.80)" fill="none" stroke="#231f20" stroke-width="1.5" vector-effect="non-scaling-stroke" stroke-linejoin="miter" stroke-miterlimit="2" stroke-linecap="butt"/>
<path d="M0.05174,0.93 C0.10348,0.98 0.165568,1 0.23282999999999998,1 C0.43978999999999996,1 0.5174,0.8 0.5174,0.38 C0.5174,0.12 0.43978999999999996,0 0.2587,0 C0.07761,0 0,0.12 0,0.31 C0,0.51 0.07761,0.61 0.2587,0.61 C0.41392,0.61 0.5174,0.5 0.5174,0.34" transform="translate(749.25 165.95) scale(23.00)" fill="none" stroke="#231f20" stroke-width="1.5" vector-effect="non-scaling-stroke" stroke-linejoin="miter" stroke-miterlimit="2" stroke-linecap="butt"/>
<path d="M0.27175,0.47 C0.09782999999999999,0.47 0.038045,0.38 0.038045,0.235 C0.038045,0.09 0.1087,0 0.27175,0 C0.4348,0 0.505455,0.09 0.505455,0.235 C0.505455,0.38 0.44566999999999996,0.47 0.27175,0.47 C0.46197499999999997,0.47 0.5435,0.58 0.5435,0.735 C0.5435,0.9 0.46197499999999997,1 0.27175,1 C0.081525,1 0,0.9 0,0.735 C0,0.58 0.081525,0.47 0.27175,0.47" transform="translate(830.15 165.95) scale(23.00)" fill="none" stroke="#231f20" stroke-width="1.5" vector-effect="non-scaling-stroke" stroke-linejoin="miter" stroke-miterlimit="2" stroke-linecap="butt"/>
<path d="M0.517545,0 L0.055650000000000005,0 L0.02226,0.43 C0.10017,0.37 0.183645,0.34 0.27825,0.34 C0.473025,0.34 0.5565,0.48 0.5565,0.67 C0.5565,0.87 0.473025,1 0.27825,1 C0.139125,1 0.055650000000000005,0.95 0,0.85" transform="translate(1122.75 166.25) scale(23.00)" fill="none" stroke="#231f20" stroke-width="1.5" vector-effect="non-scaling-stroke" stroke-linejoin="miter" stroke-miterlimit="2" stroke-linecap="butt"/>
<path d="M0.46953000000000006,0.07 C0.41736000000000006,0.02 0.35475600000000007,0 0.28693500000000005,0 C0.078255,0 0,0.2 0,0.62 C0,0.88 0.078255,1 0.26085,1 C0.44344500000000003,1 0.5217,0.88 0.5217,0.69 C0.5217,0.49 0.44344500000000003,0.39 0.26085,0.39 C0.10434000000000002,0.39 0,0.5 0,0.66" transform="translate(1215.45 166.25) scale(23.00)" fill="none" stroke="#231f20" stroke-width="1.5" vector-effect="non-scaling-stroke" stroke-linejoin="miter" stroke-miterlimit="2" stroke-linecap="butt"/>
<path d="M0,0 L0.5261,0 L0.189396,1" transform="translate(1310.35 166.25) scale(23.00)" fill="none" stroke="#231f20" stroke-width="1.5" vector-effect="non-scaling-stroke" stroke-linejoin="miter" stroke-miterlimit="2" stroke-linecap="butt"/>
<path d="M0,0.23 L0.1806,0 L0.1806,1" transform="translate(631.35 628.45) scale(22.70)" fill="none" stroke="#231f20" stroke-width="1.5" vector-effect="non-scaling-stroke" stroke-linejoin="miter" stroke-miterlimit="2" stroke-linecap="butt"/>
<path d="M0.40396999999999994,1 L0.40396999999999994,0 L0,0.66 L0.5771,0.66" transform="translate(645.75 628.45) scale(22.70)" fill="none" stroke="#231f20" stroke-width="1.5" vector-effect="non-scaling-stroke" stroke-linejoin="miter" stroke-miterlimit="2" stroke-linecap="butt"/>
<path d="M0,0.23 L0.1822,0 L0.1822,1" transform="translate(768.95 625.25) scale(22.50)" fill="none" stroke="#231f20" stroke-width="1.5" vector-effect="non-scaling-stroke" stroke-linejoin="miter" stroke-miterlimit="2" stroke-linecap="butt"/>
<path d="M0.49202999999999997,0.07 C0.43735999999999997,0.02 0.371756,0 0.300685,0 C0.082005,0 0,0.2 0,0.62 C0,0.88 0.082005,1 0.27335,1 C0.46469499999999997,1 0.5467,0.88 0.5467,0.69 C0.5467,0.49 0.46469499999999997,0.39 0.27335,0.39 C0.10933999999999999,0.39 0,0.5 0,0.66" transform="translate(782.75 625.25) scale(22.50)" fill="none" stroke="#231f20" stroke-width="1.5" vector-effect="non-scaling-stroke" stroke-linejoin="miter" stroke-miterlimit="2" stroke-linecap="butt"/>
<path d="M0,0.23 L0.1822,0 L0.1822,1" transform="translate(862.55 625.25) scale(22.50)" fill="none" stroke="#231f20" stroke-width="1.5" vector-effect="non-scaling-stroke" stroke-linejoin="miter" stroke-miterlimit="2" stroke-linecap="butt"/>
<path d="M0.27335,0.47 C0.098406,0.47 0.038269000000000004,0.38 0.038269000000000004,0.235 C0.038269000000000004,0.09 0.10933999999999999,0 0.27335,0 C0.43735999999999997,0 0.508431,0.09 0.508431,0.235 C0.508431,0.38 0.44829399999999997,0.47 0.27335,0.47 C0.46469499999999997,0.47 0.5467,0.58 0.5467,0.735 C0.5467,0.9 0.46469499999999997,1 0.27335,1 C0.082005,1 0,0.9 0,0.735 C0,0.58 0.082005,0.47 0.27335,0.47" transform="translate(876.15 625.25) scale(22.50)" fill="none" stroke="#231f20" stroke-width="1.5" vector-effect="non-scaling-stroke" stroke-linejoin="miter" stroke-miterlimit="2" stroke-linecap="butt"/>
<path d="M0.016461,0.14 C0.08230499999999999,0.04 0.16460999999999998,0 0.27435,0 C0.46090799999999993,0 0.5322389999999999,0.1 0.5322389999999999,0.24 C0.5322389999999999,0.4 0.43896,0.47 0.23045399999999996,0.47 C0.46639499999999995,0.47 0.5487,0.58 0.5487,0.74 C0.5487,0.9 0.46639499999999995,1 0.27435,1 C0.137175,1 0.05487,0.95 0,0.84" transform="translate(1108.35 624.95) scale(22.60)" fill="none" stroke="#231f20" stroke-width="1.5" vector-effect="non-scaling-stroke" stroke-linejoin="miter" stroke-miterlimit="2" stroke-linecap="butt"/>
<path d="M0,0.23 L0.1814,0 L0.1814,1" transform="translate(1189.05 624.95) scale(22.60)" fill="none" stroke="#231f20" stroke-width="1.5" vector-effect="non-scaling-stroke" stroke-linejoin="miter" stroke-miterlimit="2" stroke-linecap="butt"/>
<path d="M0.530844,0 L0.05708,0 L0.022831999999999998,0.43 C0.10274399999999999,0.37 0.188364,0.34 0.2854,0.34 C0.48517999999999994,0.34 0.5708,0.48 0.5708,0.67 C0.5708,0.87 0.48517999999999994,1 0.2854,1 C0.1427,1 0.05708,0.95 0,0.85" transform="translate(1201.35 624.95) scale(22.60)" fill="none" stroke="#231f20" stroke-width="1.5" vector-effect="non-scaling-stroke" stroke-linejoin="miter" stroke-miterlimit="2" stroke-linecap="butt"/>
<path d="M0,0.23 L0.1814,0 L0.1814,1" transform="translate(1269.65 624.95) scale(22.60)" fill="none" stroke="#231f20" stroke-width="1.5" vector-effect="non-scaling-stroke" stroke-linejoin="miter" stroke-miterlimit="2" stroke-linecap="butt"/>
<path d="M0,0 L0.5575,0 L0.2007,1" transform="translate(1282.95 624.95) scale(22.60)" fill="none" stroke="#231f20" stroke-width="1.5" vector-effect="non-scaling-stroke" stroke-linejoin="miter" stroke-miterlimit="2" stroke-linecap="butt"/>
<path d="M0.596,0.16 C0.5364,0.05 0.42911999999999995,0 0.298,0 C0.0894,0 0,0.1 0,0.25 C0,0.41 0.1192,0.45 0.298,0.5 C0.5065999999999999,0.55 0.596,0.6 0.596,0.76 C0.596,0.92 0.48871999999999993,1 0.298,1 C0.149,1 0.0596,0.95 0,0.82" transform="translate(610.55 666.35) scale(19.80)" fill="none" stroke="#231f20" stroke-width="1.5" vector-effect="non-scaling-stroke" stroke-linejoin="miter" stroke-miterlimit="2" stroke-linecap="butt"/>
<path d="M0,1 L0.3182,0 L0.6364,1" transform="translate(626.75 666.35) scale(19.80)" fill="none" stroke="#231f20" stroke-width="1.5" vector-effect="non-scaling-stroke" stroke-linejoin="miter" stroke-miterlimit="2" stroke-linecap="butt"/>
<path d="M0.108188,0.66 L0.5282119999999999,0.66" transform="translate(626.75 666.35) scale(19.80)" fill="none" stroke="#231f20" stroke-width="1.5" vector-effect="non-scaling-stroke" stroke-linejoin="miter" stroke-miterlimit="2" stroke-linecap="butt"/>
<path d="M0.016212,0.14 C0.08106,0.04 0.16212,0 0.2702,0 C0.45393599999999995,0 0.524188,0.1 0.524188,0.24 C0.524188,0.4 0.43232000000000004,0.47 0.22696799999999998,0.47 C0.45933999999999997,0.47 0.5404,0.58 0.5404,0.74 C0.5404,0.9 0.45933999999999997,1 0.2702,1 C0.1351,1 0.054040000000000005,0.95 0,0.84" transform="translate(644.75 666.35) scale(19.80)" fill="none" stroke="#231f20" stroke-width="1.5" vector-effect="non-scaling-stroke" stroke-linejoin="miter" stroke-miterlimit="2" stroke-linecap="butt"/>
<path d="M0.5939,0.16 C0.53451,0.05 0.427608,0 0.29695,0 C0.089085,0 0,0.1 0,0.25 C0,0.41 0.11878,0.45 0.29695,0.5 C0.504815,0.55 0.5939,0.6 0.5939,0.76 C0.5939,0.92 0.48699799999999993,1 0.29695,1 C0.148475,1 0.05939,0.95 0,0.82" transform="translate(746.55 664.35) scale(19.70)" fill="none" stroke="#231f20" stroke-width="1.5" vector-effect="non-scaling-stroke" stroke-linejoin="miter" stroke-miterlimit="2" stroke-linecap="butt"/>
<path d="M0,1 L0.31725,0 L0.6345,1" transform="translate(762.75 664.35) scale(19.70)" fill="none" stroke="#231f20" stroke-width="1.5" vector-effect="non-scaling-stroke" stroke-linejoin="miter" stroke-miterlimit="2" stroke-linecap="butt"/>
<path d="M0.107865,0.66 L0.526635,0.66" transform="translate(762.75 664.35) scale(19.70)" fill="none" stroke="#231f20" stroke-width="1.5" vector-effect="non-scaling-stroke" stroke-linejoin="miter" stroke-miterlimit="2" stroke-linecap="butt"/>
<path d="M0,0.24 C0,0.08 0.07995000000000001,0 0.2665,0 C0.45838,0 0.533,0.1 0.533,0.27 C0.533,0.42 0.43706,0.54 0.29315,0.68 L0,1 L0.533,1" transform="translate(780.75 664.35) scale(19.70)" fill="none" stroke="#231f20" stroke-width="1.5" vector-effect="non-scaling-stroke" stroke-linejoin="miter" stroke-miterlimit="2" stroke-linecap="butt"/>
<path d="M0.5939,0.16 C0.53451,0.05 0.427608,0 0.29695,0 C0.089085,0 0,0.1 0,0.25 C0,0.41 0.11878,0.45 0.29695,0.5 C0.504815,0.55 0.5939,0.6 0.5939,0.76 C0.5939,0.92 0.48699799999999993,1 0.29695,1 C0.148475,1 0.05939,0.95 0,0.82" transform="translate(838.25 664.35) scale(19.70)" fill="none" stroke="#231f20" stroke-width="1.5" vector-effect="non-scaling-stroke" stroke-linejoin="miter" stroke-miterlimit="2" stroke-linecap="butt"/>
<path d="M0,1 L0.31725,0 L0.6345,1" transform="translate(854.45 664.35) scale(19.70)" fill="none" stroke="#231f20" stroke-width="1.5" vector-effect="non-scaling-stroke" stroke-linejoin="miter" stroke-miterlimit="2" stroke-linecap="butt"/>
<path d="M0.107865,0.66 L0.526635,0.66" transform="translate(854.45 664.35) scale(19.70)" fill="none" stroke="#231f20" stroke-width="1.5" vector-effect="non-scaling-stroke" stroke-linejoin="miter" stroke-miterlimit="2" stroke-linecap="butt"/>
<path d="M0.47511000000000003,0.07 C0.42232000000000003,0.02 0.35897200000000007,0 0.290345,0 C0.079185,0 0,0.2 0,0.62 C0,0.88 0.079185,1 0.26395,1 C0.44871500000000003,1 0.5279,0.88 0.5279,0.69 C0.5279,0.49 0.44871500000000003,0.39 0.26395,0.39 C0.10558000000000001,0.39 0,0.5 0,0.66" transform="translate(871.75 664.35) scale(19.70)" fill="none" stroke="#231f20" stroke-width="1.5" vector-effect="non-scaling-stroke" stroke-linejoin="miter" stroke-miterlimit="2" stroke-linecap="butt"/>
<path d="M0.5765,0.16 C0.51885,0.05 0.41508,0 0.28825,0 C0.086475,0 0,0.1 0,0.25 C0,0.41 0.11530000000000001,0.45 0.28825,0.5 C0.490025,0.55 0.5765,0.6 0.5765,0.76 C0.5765,0.92 0.47273,1 0.28825,1 C0.144125,1 0.05765000000000001,0.95 0,0.82" transform="translate(1098.45 664.75) scale(19.60)" fill="none" stroke="#231f20" stroke-width="1.5" vector-effect="non-scaling-stroke" stroke-linejoin="miter" stroke-miterlimit="2" stroke-linecap="butt"/>
<path d="M0,0 L0,1 L0.30024500000000004,1 C0.4913100000000001,1 0.5459,0.9 0.5459,0.73 C0.5459,0.56 0.4913100000000001,0.47 0.30024500000000004,0.47 L0,0.47" transform="translate(1116.05 664.75) scale(19.60)" fill="none" stroke="#231f20" stroke-width="1.5" vector-effect="non-scaling-stroke" stroke-linejoin="miter" stroke-miterlimit="2" stroke-linecap="butt"/>
<path d="M0.30024500000000004,0.47 C0.44763800000000004,0.47 0.5022280000000001,0.38 0.5022280000000001,0.23 C0.5022280000000001,0.08 0.44763800000000004,0 0.27295,0 L0,0" transform="translate(1116.05 664.75) scale(19.60)" fill="none" stroke="#231f20" stroke-width="1.5" vector-effect="non-scaling-stroke" stroke-linejoin="miter" stroke-miterlimit="2" stroke-linecap="butt"/>
<path d="M0,0.24 C0,0.08 0.081885,0 0.27295,0 C0.46947400000000006,0 0.5459,0.1 0.5459,0.27 C0.5459,0.42 0.44763800000000004,0.54 0.30024500000000004,0.68 L0,1 L0.5459,1" transform="translate(1131.05 664.75) scale(19.60)" fill="none" stroke="#231f20" stroke-width="1.5" vector-effect="non-scaling-stroke" stroke-linejoin="miter" stroke-miterlimit="2" stroke-linecap="butt"/>
<path d="M0.5663,0.16 C0.5096700000000001,0.05 0.407736,0 0.28315,0 C0.084945,0 0,0.1 0,0.25 C0,0.41 0.11326000000000001,0.45 0.28315,0.5 C0.48135500000000003,0.55 0.5663,0.6 0.5663,0.76 C0.5663,0.92 0.464366,1 0.28315,1 C0.141575,1 0.05663000000000001,0.95 0,0.82" transform="translate(1182.95 664.75) scale(19.60)" fill="none" stroke="#231f20" stroke-width="1.5" vector-effect="non-scaling-stroke" stroke-linejoin="miter" stroke-miterlimit="2" stroke-linecap="butt"/>
<path d="M0,1 L0.3291,0 L0.6582,1" transform="translate(1198.85 664.75) scale(19.60)" fill="none" stroke="#231f20" stroke-width="1.5" vector-effect="non-scaling-stroke" stroke-linejoin="miter" stroke-miterlimit="2" stroke-linecap="butt"/>
<path d="M0.11189400000000001,0.66 L0.546306,0.66" transform="translate(1198.85 664.75) scale(19.60)" fill="none" stroke="#231f20" stroke-width="1.5" vector-effect="non-scaling-stroke" stroke-linejoin="miter" stroke-miterlimit="2" stroke-linecap="butt"/>
<path d="M0.27805,0.47 C0.100098,0.47 0.038927,0.38 0.038927,0.235 C0.038927,0.09 0.11122000000000001,0 0.27805,0 C0.44488000000000005,0 0.5171730000000001,0.09 0.5171730000000001,0.235 C0.5171730000000001,0.38 0.456002,0.47 0.27805,0.47 C0.472685,0.47 0.5561,0.58 0.5561,0.735 C0.5561,0.9 0.472685,1 0.27805,1 C0.083415,1 0,0.9 0,0.735 C0,0.58 0.083415,0.47 0.27805,0.47" transform="translate(1215.85 664.75) scale(19.60)" fill="none" stroke="#231f20" stroke-width="1.5" vector-effect="non-scaling-stroke" stroke-linejoin="miter" stroke-miterlimit="2" stroke-linecap="butt"/>
<path d="M0.5765,0.16 C0.51885,0.05 0.41508,0 0.28825,0 C0.086475,0 0,0.1 0,0.25 C0,0.41 0.11530000000000001,0.45 0.28825,0.5 C0.490025,0.55 0.5765,0.6 0.5765,0.76 C0.5765,0.92 0.47273,1 0.28825,1 C0.144125,1 0.05765000000000001,0.95 0,0.82" transform="translate(1257.35 664.75) scale(19.60)" fill="none" stroke="#231f20" stroke-width="1.5" vector-effect="non-scaling-stroke" stroke-linejoin="miter" stroke-miterlimit="2" stroke-linecap="butt"/>
<path d="M0,1 L0.3291,0 L0.6582,1" transform="translate(1273.25 664.75) scale(19.60)" fill="none" stroke="#231f20" stroke-width="1.5" vector-effect="non-scaling-stroke" stroke-linejoin="miter" stroke-miterlimit="2" stroke-linecap="butt"/>
<path d="M0.11189400000000001,0.66 L0.546306,0.66" transform="translate(1273.25 664.75) scale(19.60)" fill="none" stroke="#231f20" stroke-width="1.5" vector-effect="non-scaling-stroke" stroke-linejoin="miter" stroke-miterlimit="2" stroke-linecap="butt"/>
<path d="M0,0.23 L0.1888,0 L0.1888,1" transform="translate(1289.95 664.75) scale(19.60)" fill="none" stroke="#231f20" stroke-width="1.5" vector-effect="non-scaling-stroke" stroke-linejoin="miter" stroke-miterlimit="2" stroke-linecap="butt"/>
<path d="M0.05765000000000001,0.93 C0.11530000000000001,0.98 0.18448,1 0.259425,1 C0.490025,1 0.5765,0.8 0.5765,0.38 C0.5765,0.12 0.490025,0 0.28825,0 C0.086475,0 0,0.12 0,0.31 C0,0.51 0.086475,0.61 0.28825,0.61 C0.46120000000000005,0.61 0.5765,0.5 0.5765,0.34" transform="translate(1301.55 664.75) scale(19.60)" fill="none" stroke="#231f20" stroke-width="1.5" vector-effect="non-scaling-stroke" stroke-linejoin="miter" stroke-miterlimit="2" stroke-linecap="butt"/>
<path d="M0,0 L0,1" transform="translate(727.25 205.35) scale(19.70)" fill="none" stroke="#231f20" stroke-width="1.5" vector-effect="non-scaling-stroke" stroke-linejoin="miter" stroke-miterlimit="2" stroke-linecap="butt"/>
<path d="M0.5838,0 L0.5838,1" transform="translate(727.25 205.35) scale(19.70)" fill="none" stroke="#231f20" stroke-width="1.5" vector-effect="non-scaling-stroke" stroke-linejoin="miter" stroke-miterlimit="2" stroke-linecap="butt"/>
<path d="M0,0.48 L0.5838,0.48" transform="translate(727.25 205.35) scale(19.70)" fill="none" stroke="#231f20" stroke-width="1.5" vector-effect="non-scaling-stroke" stroke-linejoin="miter" stroke-miterlimit="2" stroke-linecap="butt"/>
<path d="M0,0 L0,1 L0.4365,1" transform="translate(745.35 205.35) scale(19.70)" fill="none" stroke="#231f20" stroke-width="1.5" vector-effect="non-scaling-stroke" stroke-linejoin="miter" stroke-miterlimit="2" stroke-linecap="butt"/>
<path d="M0,0.23 L0.1878,0 L0.1878,1" transform="translate(759.15 205.35) scale(19.70)" fill="none" stroke="#231f20" stroke-width="1.5" vector-effect="non-scaling-stroke" stroke-linejoin="miter" stroke-miterlimit="2" stroke-linecap="butt"/>
<path d="M0,0.24 C0,0.08 0.07614,0 0.2538,0 C0.43653600000000004,0 0.5076,0.1 0.5076,0.27 C0.5076,0.42 0.416232,0.54 0.27918000000000004,0.68 L0,1 L0.5076,1" transform="translate(771.35 205.35) scale(19.70)" fill="none" stroke="#231f20" stroke-width="1.5" vector-effect="non-scaling-stroke" stroke-linejoin="miter" stroke-miterlimit="2" stroke-linecap="butt"/>
<path d="M0,0 L0,1" transform="translate(808.75 205.35) scale(19.70)" fill="none" stroke="#231f20" stroke-width="1.5" vector-effect="non-scaling-stroke" stroke-linejoin="miter" stroke-miterlimit="2" stroke-linecap="butt"/>
<path d="M0.5838,0 L0.5838,1" transform="translate(808.75 205.35) scale(19.70)" fill="none" stroke="#231f20" stroke-width="1.5" vector-effect="non-scaling-stroke" stroke-linejoin="miter" stroke-miterlimit="2" stroke-linecap="butt"/>
<path d="M0,0.48 L0.5838,0.48" transform="translate(808.75 205.35) scale(19.70)" fill="none" stroke="#231f20" stroke-width="1.5" vector-effect="non-scaling-stroke" stroke-linejoin="miter" stroke-miterlimit="2" stroke-linecap="butt"/>
<path d="M0,0 L0,1 L0.4162,1" transform="translate(826.75 205.35) scale(19.70)" fill="none" stroke="#231f20" stroke-width="1.5" vector-effect="non-scaling-stroke" stroke-linejoin="miter" stroke-miterlimit="2" stroke-linecap="butt"/>
<path d="M0,0.23 L0.1878,0 L0.1878,1" transform="translate(840.65 205.35) scale(19.70)" fill="none" stroke="#231f20" stroke-width="1.5" vector-effect="non-scaling-stroke" stroke-linejoin="miter" stroke-miterlimit="2" stroke-linecap="butt"/>
<path d="M0,0.23 L0.1878,0 L0.1878,1" transform="translate(852.15 205.35) scale(19.70)" fill="none" stroke="#231f20" stroke-width="1.5" vector-effect="non-scaling-stroke" stroke-linejoin="miter" stroke-miterlimit="2" stroke-linecap="butt"/>
<path d="M0,0 L0,1" transform="translate(1101.05 205.95) scale(19.50)" fill="none" stroke="#231f20" stroke-width="1.5" vector-effect="non-scaling-stroke" stroke-linejoin="miter" stroke-miterlimit="2" stroke-linecap="butt"/>
<path d="M0.5795,0 L0.5795,1" transform="translate(1101.05 205.95) scale(19.50)" fill="none" stroke="#231f20" stroke-width="1.5" vector-effect="non-scaling-stroke" stroke-linejoin="miter" stroke-miterlimit="2" stroke-linecap="butt"/>
<path d="M0,0.48 L0.5795,0.48" transform="translate(1101.05 205.95) scale(19.50)" fill="none" stroke="#231f20" stroke-width="1.5" vector-effect="non-scaling-stroke" stroke-linejoin="miter" stroke-miterlimit="2" stroke-linecap="butt"/>
<path d="M0,0 L0,1 L0.4462,1" transform="translate(1119.35 205.95) scale(19.50)" fill="none" stroke="#231f20" stroke-width="1.5" vector-effect="non-scaling-stroke" stroke-linejoin="miter" stroke-miterlimit="2" stroke-linecap="butt"/>
<path d="M0.2846,0.47 C0.102456,0.47 0.039844000000000004,0.38 0.039844000000000004,0.235 C0.039844000000000004,0.09 0.11384000000000001,0 0.2846,0 C0.45536000000000004,0 0.529356,0.09 0.529356,0.235 C0.529356,0.38 0.466744,0.47 0.2846,0.47 C0.48382000000000003,0.47 0.5692,0.58 0.5692,0.735 C0.5692,0.9 0.48382000000000003,1 0.2846,1 C0.08538,1 0,0.9 0,0.735 C0,0.58 0.08538,0.47 0.2846,0.47" transform="translate(1132.15 205.95) scale(19.50)" fill="none" stroke="#231f20" stroke-width="1.5" vector-effect="non-scaling-stroke" stroke-linejoin="miter" stroke-miterlimit="2" stroke-linecap="butt"/>
<path d="M0,0 L0,1" transform="translate(1194.05 205.95) scale(19.50)" fill="none" stroke="#231f20" stroke-width="1.5" vector-effect="non-scaling-stroke" stroke-linejoin="miter" stroke-miterlimit="2" stroke-linecap="butt"/>
<path d="M0.5692,0 L0.5692,1" transform="translate(1194.05 205.95) scale(19.50)" fill="none" stroke="#231f20" stroke-width="1.5" vector-effect="non-scaling-stroke" stroke-linejoin="miter" stroke-miterlimit="2" stroke-linecap="butt"/>
<path d="M0,0.48 L0.5692,0.48" transform="translate(1194.05 205.95) scale(19.50)" fill="none" stroke="#231f20" stroke-width="1.5" vector-effect="non-scaling-stroke" stroke-linejoin="miter" stroke-miterlimit="2" stroke-linecap="butt"/>
<path d="M0,0 L0,1 L0.4308,1" transform="translate(1212.15 205.95) scale(19.50)" fill="none" stroke="#231f20" stroke-width="1.5" vector-effect="non-scaling-stroke" stroke-linejoin="miter" stroke-miterlimit="2" stroke-linecap="butt"/>
<path d="M0,0 L0.5795,0 L0.20862,1" transform="translate(1224.25 205.95) scale(19.50)" fill="none" stroke="#231f20" stroke-width="1.5" vector-effect="non-scaling-stroke" stroke-linejoin="miter" stroke-miterlimit="2" stroke-linecap="butt"/>
<path d="M0,0 L0,1" transform="translate(1287.85 205.95) scale(19.50)" fill="none" stroke="#231f20" stroke-width="1.5" vector-effect="non-scaling-stroke" stroke-linejoin="miter" stroke-miterlimit="2" stroke-linecap="butt"/>
<path d="M0.5692,0 L0.5692,1" transform="translate(1287.85 205.95) scale(19.50)" fill="none" stroke="#231f20" stroke-width="1.5" vector-effect="non-scaling-stroke" stroke-linejoin="miter" stroke-miterlimit="2" stroke-linecap="butt"/>
<path d="M0,0.48 L0.5692,0.48" transform="translate(1287.85 205.95) scale(19.50)" fill="none" stroke="#231f20" stroke-width="1.5" vector-effect="non-scaling-stroke" stroke-linejoin="miter" stroke-miterlimit="2" stroke-linecap="butt"/>
<path d="M0,0 L0,1 L0.4308,1" transform="translate(1305.95 205.95) scale(19.50)" fill="none" stroke="#231f20" stroke-width="1.5" vector-effect="non-scaling-stroke" stroke-linejoin="miter" stroke-miterlimit="2" stroke-linecap="butt"/>
<path d="M0,0.23 L0.1897,0 L0.1897,1" transform="translate(1320.75 205.95) scale(19.50)" fill="none" stroke="#231f20" stroke-width="1.5" vector-effect="non-scaling-stroke" stroke-linejoin="miter" stroke-miterlimit="2" stroke-linecap="butt"/>
<path d="M0.017847,0.14 C0.089235,0.04 0.17847,0 0.29745,0 C0.499716,0 0.5770529999999999,0.1 0.5770529999999999,0.24 C0.5770529999999999,0.4 0.47592,0.47 0.249858,0.47 C0.5056649999999999,0.47 0.5949,0.58 0.5949,0.74 C0.5949,0.9 0.5056649999999999,1 0.29745,1 C0.148725,1 0.05949,0.95 0,0.84" transform="translate(1331.55 205.95) scale(19.50)" fill="none" stroke="#231f20" stroke-width="1.5" vector-effect="non-scaling-stroke" stroke-linejoin="miter" stroke-miterlimit="2" stroke-linecap="butt"/>
<path d="M562.0,214.6 L571.9,184.6 L581.7,214.6" fill="none" stroke="#231f20" stroke-width="1.4" stroke-linejoin="miter" stroke-miterlimit="2" stroke-linecap="butt"/>
<line x1="566.0" y1="204.3" x2="578.0" y2="204.3" stroke="#231f20" stroke-width="1.4" />
<path d="M988.1,143.5 L999.8,107.7 L1011.5,143.5" fill="none" stroke="#231f20" stroke-width="1.4" stroke-linejoin="miter" stroke-miterlimit="2" stroke-linecap="butt"/>
<line x1="992.0" y1="131.4" x2="1007.6" y2="131.4" stroke="#231f20" stroke-width="1.4" />
<line x1="604.3" y1="221.4" x2="568.5" y2="250.8" stroke="#231f20" stroke-width="2.4" stroke-linecap="butt"/>
<path d="M556.1,261.4 L565.4,246.0 L572.0,254.9 Z" fill="#231f20" stroke="#231f20" stroke-width="0.5" />
<path d="M63.0,215.6 L128.6,215.6 L405.7,470.0" fill="none" stroke="#231f20" stroke-width="1.1" stroke-linejoin="miter" stroke-linecap="butt"/>
<path d="M278.1,808.0 L212.5,808.0 L139.2,660.5" fill="none" stroke="#231f20" stroke-width="1.1" stroke-linejoin="miter" stroke-linecap="butt"/>
<path d="M722.9,195.0 L788.6,195.0 L912.5,449.0" fill="none" stroke="#231f20" stroke-width="1.1" stroke-linejoin="miter" stroke-linecap="butt"/>
<path d="M804.2,195.0 L869.4,195.0 L978.6,453.0" fill="none" stroke="#231f20" stroke-width="1.1" stroke-linejoin="miter" stroke-linecap="butt"/>
<path d="M1162.8,194.8 L1096.6,194.8 L1022.0,454.5" fill="none" stroke="#231f20" stroke-width="1.1" stroke-linejoin="miter" stroke-linecap="butt"/>
<path d="M1255.5,194.8 L1189.3,194.8 L1065.0,454.0" fill="none" stroke="#231f20" stroke-width="1.1" stroke-linejoin="miter" stroke-linecap="butt"/>
<path d="M1349.8,194.8 L1284.2,194.8 L1101.5,451.5" fill="none" stroke="#231f20" stroke-width="1.1" stroke-linejoin="miter" stroke-linecap="butt"/>
<path d="M605.4,657.0 L670.8,657.0 L788.4,391.9" fill="none" stroke="#231f20" stroke-width="1.1" stroke-linejoin="miter" stroke-linecap="butt"/>
<path d="M742.6,653.3 L808.4,653.3 L906.3,515.8" fill="none" stroke="#231f20" stroke-width="1.1" stroke-linejoin="miter" stroke-linecap="butt"/>
<path d="M834.2,653.3 L900.6,653.3 L966.3,525.2" fill="none" stroke="#231f20" stroke-width="1.1" stroke-linejoin="miter" stroke-linecap="butt"/>
<path d="M1142.9,653.3 L1093.7,653.3 L1018.9,525.2" fill="none" stroke="#231f20" stroke-width="1.1" stroke-linejoin="miter" stroke-linecap="butt"/>
<path d="M1229.0,653.3 L1178.9,653.3 L1070.4,516.2" fill="none" stroke="#231f20" stroke-width="1.1" stroke-linejoin="miter" stroke-linecap="butt"/>
<path d="M1318.5,653.3 L1252.9,653.3 L1106.2,483.8" fill="none" stroke="#231f20" stroke-width="1.1" stroke-linejoin="miter" stroke-linecap="butt"/>
</svg>
</body></html>
